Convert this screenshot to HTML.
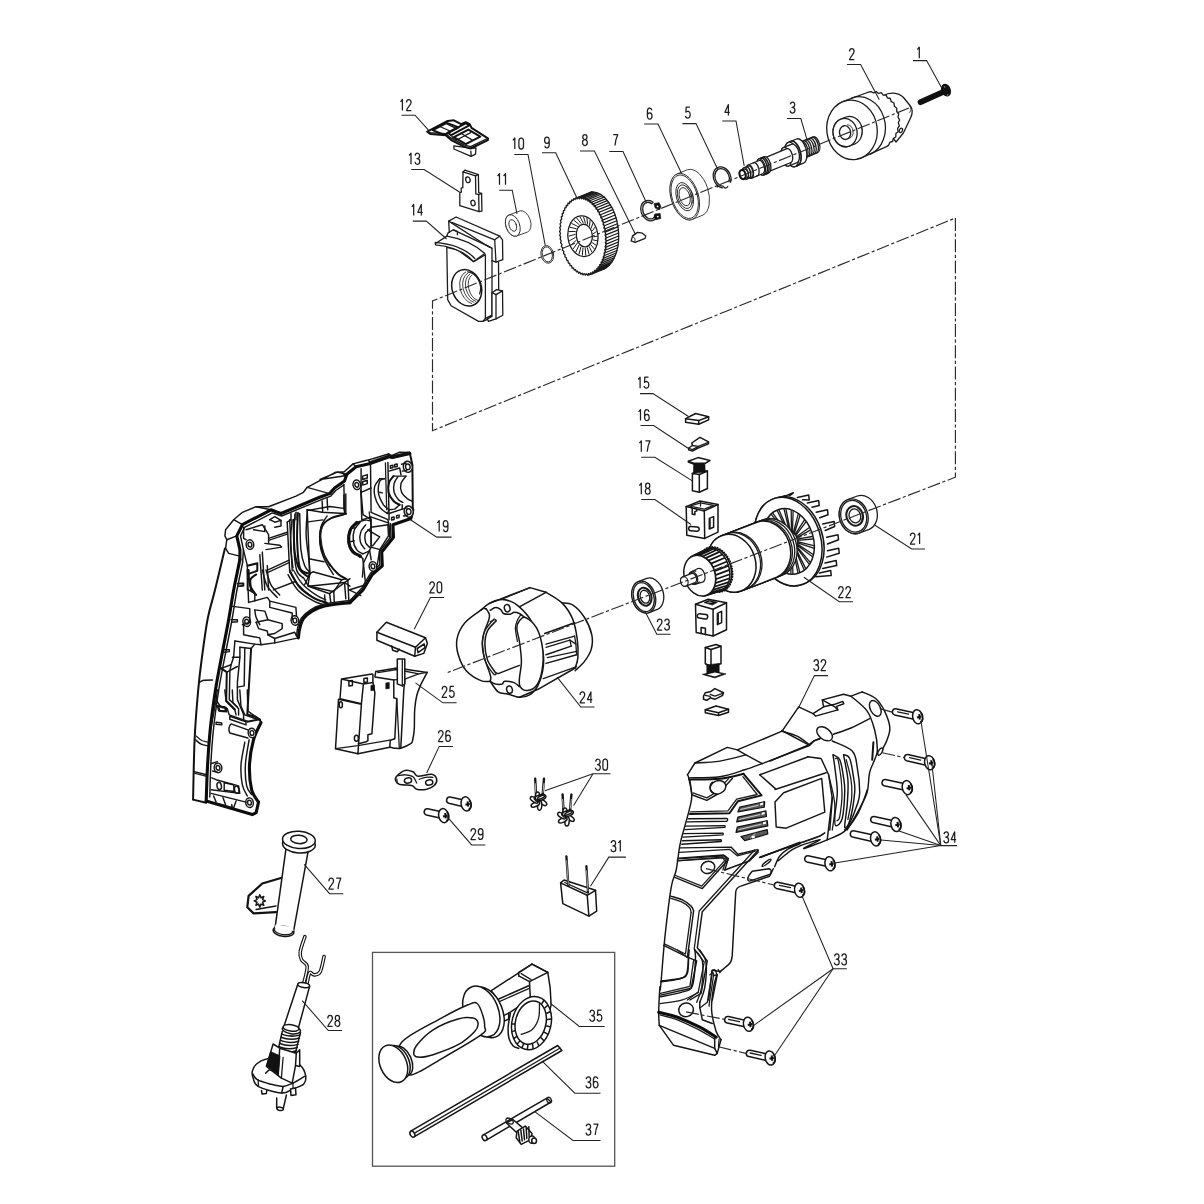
<!DOCTYPE html>
<html><head><meta charset="utf-8"><title>Exploded view</title>
<style>
html,body{margin:0;padding:0;background:#fff;}
body{width:1204px;height:1204px;overflow:hidden;font-family:"Liberation Sans",sans-serif;}
svg{display:block}
.l{fill:none;stroke:#1c1c1c;stroke-width:1.3;stroke-linejoin:round;stroke-linecap:round}
.w{fill:#fff;stroke:#1c1c1c;stroke-width:1.3;stroke-linejoin:round;stroke-linecap:round}
.t{fill:none;stroke:#2a2a2a;stroke-width:.9;stroke-linejoin:round;stroke-linecap:round}
.tw{fill:#fff;stroke:#2a2a2a;stroke-width:.9;stroke-linejoin:round}
.k{fill:none;stroke:#111;stroke-width:2.2;stroke-linejoin:round;stroke-linecap:round}
.kw{fill:#fff;stroke:#111;stroke-width:2.2;stroke-linejoin:round;stroke-linecap:round}
.m{fill:none;stroke:#151515;stroke-width:1.5;stroke-linejoin:round;stroke-linecap:round}
.mw{fill:#fff;stroke:#151515;stroke-width:1.5;stroke-linejoin:round;stroke-linecap:round}
.b{fill:#111;stroke:#111;stroke-width:.6;stroke-linejoin:round}
.h{fill:none;stroke:#151515;stroke-width:1.45;stroke-linejoin:round;stroke-linecap:round}
.hw{fill:#fff;stroke:#151515;stroke-width:1.45;stroke-linejoin:round}
.hm{fill:none;stroke:#111;stroke-width:2;stroke-linejoin:round;stroke-linecap:round}
.hk{fill:none;stroke:#0c0c0c;stroke-width:3.1;stroke-linejoin:round;stroke-linecap:round}
.hv{fill:#5a5a5a;stroke:#111;stroke-width:1.2;stroke-linejoin:round}
.wf{fill:#fff;stroke:none}
.hmw{fill:#fff;stroke:#111;stroke-width:2;stroke-linejoin:round}
.ld{fill:none;stroke:#222;stroke-width:1.05}
.dd{fill:none;stroke:#2a2a2a;stroke-width:1.15;stroke-dasharray:13 2.5 3.2 2.5}
.g{fill:none;stroke:#1e1e1e;stroke-width:1.25;stroke-linejoin:round;stroke-linecap:butt}
</style></head><body>
<svg width="1204" height="1204" viewBox="0 0 1204 1204">
<rect width="1204" height="1204" fill="#fff"/>
<!-- 10_top.svg -->
<g id="top">
<path d="M920.6,102.2L944.5,91.4" stroke="#111" stroke-width="5.8" stroke-linecap="round" fill="none"/>
<ellipse cx="946" cy="90.2" rx="4.8" ry="6.6" transform="rotate(-22 946 90.2)" fill="#111"/>

<circle cx="944.6" cy="87" r=".8" fill="#888"/><circle cx="947.6" cy="95" r=".8" fill="#888"/>
<path class="w" d="M884,95.5C889,92 898,92 903.5,97.5L910,105.5C913.2,109.5 912.8,113.5 910.5,118L903.4,133L896,142L880,120Z"/>
<path class="t" d="M909.7,106.2C911.5,108 911,111 909.5,112.5"/>
<path class="w" d="M861.3,157.9A25.2,29.8 -8 0 1 842.7,101.7L866.1,93L868.5,92.1L871,91.6L873.7,93L876.2,91.5L878.5,93.5L881.2,92.7L883.2,95.2L886,95.1L887.5,98L890.3,98.5L891.3,101.7L894,103L894.4,106.3L896.8,108.2L896.7,111.5L898.7,113.9L898,117.1L899.6,119.9L898.3,122.8L899.4,125.9L897.6,128.4L898.1,131.7L895.9,133.6L895.8,137L893.3,138.3L892.6,141.5L889.9,142.2L888.7,145.1L886.5,146.6L884.2,147.7Z"/>
<ellipse class="w" cx="900.9" cy="130.4" rx="1.5" ry="2.3" transform="rotate(25 900.9 130.4)"/>
<path class="l" d="M851.5,98.1A25.2,29.8 -8 0 1 870.1,154.3"/>
<ellipse class="w" cx="852" cy="129.8" rx="25.2" ry="29.8" transform="rotate(-8 852 129.8)"/>
<path class="w" d="M849.5,146A12,14.2 -8 1 1 840.6,119.2L846.2,117A12,14.2 -8 0 1 855,143.8Z"/><ellipse class="w" cx="845.1" cy="132.6" rx="12" ry="14.2" transform="rotate(-8 845.1 132.6)"/>
<ellipse class="l" cx="845.1" cy="132.6" rx="5.6" ry="6.9" transform="rotate(-8 845.1 132.6)"/>
<path class="t" d="M847.4,124.8A5.6,6.9 -8 0 1 849.3,138.3"/>
<path class="w" d="M805.9,157.4A4,8.2 -14 0 1 801.4,141.7L813.5,136.8A4,8.2 -14 0 1 818,152.5Z"/><ellipse class="w" cx="803.7" cy="149.6" rx="4" ry="8.2" transform="rotate(-14 803.7 149.6)"/>
<path class="l" d="M802.9,141.2A4,8.2 -14 1 1 806.8,156.8"/>
<path class="l" d="M805,140.3A4,8.2 -14 1 1 808.9,156"/>
<path class="l" d="M807.2,139.4A4,8.2 -14 1 1 811.1,155.1"/>
<path class="l" d="M809.3,138.5A4,8.2 -14 1 1 813.2,154.2"/>
<path class="l" d="M811.4,137.7A4,8.2 -14 1 1 815.3,153.3"/>
<path class="w" d="M797.9,165.4A6.4,12.6 -14 1 1 790.9,141.3L796.5,139A6.4,12.6 -14 0 1 803.5,163.2Z"/><ellipse class="w" cx="794.4" cy="153.4" rx="6.4" ry="12.6" transform="rotate(-14 794.4 153.4)"/>
<path class="w" d="M795.1,166.6A6.4,12.6 -14 1 1 788.2,142.4L790.9,141.3A6.4,12.6 -14 0 1 797.9,165.4Z"/><ellipse class="w" cx="791.7" cy="154.5" rx="6.4" ry="12.6" transform="rotate(-14 791.7 154.5)"/>
<path class="w" d="M788.8,166A4.8,9.6 -14 0 1 783.4,147.6L791.8,144.2A4.8,9.6 -14 0 1 797.1,162.6Z"/><ellipse class="w" cx="786.1" cy="156.8" rx="4.8" ry="9.6" transform="rotate(-14 786.1 156.8)"/>
<path class="w" d="M768.6,171.6A3.5,7.2 -14 0 1 764.7,157.8L786.9,148.7A3.5,7.2 -14 0 1 790.9,162.5Z"/><ellipse class="w" cx="766.7" cy="164.7" rx="3.5" ry="7.2" transform="rotate(-14 766.7 164.7)"/>
<path class="w" d="M763.4,175.1A4,8.4 -14 0 1 758.8,158.9L764.4,156.7A4,8.4 -14 0 1 769,172.8Z"/><ellipse class="w" cx="761.1" cy="167" rx="4" ry="8.4" transform="rotate(-14 761.1 167)"/>
<path class="m" d="M762.1,157.6A4,8.4 -14 1 1 766.1,173.7"/>
<path class="m" d="M760.3,158.4A4,8.4 -14 1 1 764.3,174.4"/>
<path class="w" d="M751.9,178.1A3.3,6.8 -14 0 1 748.1,165L759.2,160.5A3.3,6.8 -14 0 1 763,173.5Z"/><ellipse class="w" cx="750" cy="171.5" rx="3.3" ry="6.8" transform="rotate(-14 750 171.5)"/>
<path class="l" d="M753.4,162.9A3.3,6.8 -14 1 1 756.6,175.9"/>
<path class="w" d="M747,179A2.9,5.8 -14 0 1 743.8,167.9L748.4,166A2.9,5.8 -14 0 1 751.6,177.1Z"/><ellipse class="w" cx="745.4" cy="173.4" rx="2.9" ry="5.8" transform="rotate(-14 745.4 173.4)"/>
<path class="m" d="M745.8,167.1A2.9,5.8 -14 1 1 748.6,178.2"/>
<path class="w" d="M744,179A3,4.6 -14 0 1 741.2,170.2L744,169.1A3,4.6 -14 0 1 746.8,177.8Z"/><ellipse class="w" cx="742.6" cy="174.6" rx="3" ry="4.6" transform="rotate(-14 742.6 174.6)"/>
<ellipse cx="742.6" cy="174.6" rx="3" ry="4.6" transform="rotate(-14 742.6 174.6)" fill="none" stroke="#111" stroke-width="2"/>
<path class="l" d="M722.4,187.8A8.6,10.8 -22.3 1 1 730.6,182.2"/>
<path class="l" d="M722.8,186.1A7,9 -22.3 1 1 729,181.8"/>
<circle cx="717.4" cy="186.4" r="1" fill="#111"/>
<path class="l" d="M723.6,186.6C724,188.4 727,188.6 727.8,186.4"/>
<path class="tw" d="M692.4,219.4A13.7,24 -17 0 1 677,174L687.6,169.7A13.7,24 -17 0 1 702.9,215.1Z"/><ellipse class="tw" cx="684.7" cy="196.7" rx="13.7" ry="24" transform="rotate(-17 684.7 196.7)"/>
<ellipse class="t" cx="684.7" cy="196.7" rx="12.6" ry="22.4" transform="rotate(-17 684.7 196.7)"/>
<ellipse class="t" cx="684.7" cy="196.7" rx="8.2" ry="14.6" transform="rotate(-17 684.7 196.7)"/>
<ellipse class="t" cx="684.7" cy="196.7" rx="6.8" ry="12.2" transform="rotate(-17 684.7 196.7)"/>
<ellipse class="t" cx="684.7" cy="196.7" rx="5.2" ry="9.4" transform="rotate(-17 684.7 196.7)"/>
<path class="t" d="M686.6,186.6A5.2,9.4 -17 0 1 691.8,203.5"/>
<path d="M657,214.2A7.4,9.6 -22.3 1 1 652.9,203.2" fill="none" stroke="#151515" stroke-width="3.2"/>
<path d="M656.8,214.9A7.4,9.6 -22.3 1 1 652.3,202.7" fill="none" stroke="#fff" stroke-width=".7"/>
<path class="b" d="M654,203.5l5.2,-.8l1.6,3.6l-1,3.4l-4.6,-1.6z"/>
<path class="b" d="M654.6,214l5.6,-.6l.6,5l-4.8,1.4l-2,-2.6z"/>
<circle cx="657.6" cy="206.4" r=".9" fill="#fff"/><circle cx="657.8" cy="216.6" r=".9" fill="#fff"/>
<path class="w" d="M631.1,240.9L632.6,235.9L637.4,232.4L642.4,233.2L645.8,235.9L645.1,238.4L635.1,242.4Z"/>
<path class="t" d="M632.6,235.9Q636.4,238.4 635.1,242.4"/>
<path class="w" d="M578.1,197.3A23,39.2 -7 0 1 587.7,275.1L600.6,269.8A23,39.2 -7 0 0 591.1,192Z"/>
<path d="M578.9,197.2L591.9,191.9M580.7,197.2L593.7,191.9M582.6,197.5L595.5,192.2M584.4,198L597.4,192.7M586.2,198.7L599.2,193.4M588,199.6L601,194.3M589.8,200.8L602.8,195.5M591.6,202.2L604.5,196.9M593.2,203.9L606.2,198.6M594.8,205.7L607.8,200.4M596.4,207.7L609.3,202.4M597.8,209.9L610.8,204.6M599.2,212.2L612.2,206.9M600.5,214.7L613.4,209.4M601.6,217.3L614.6,212M602.7,220.1L615.6,214.8M603.6,222.9L616.5,217.6M604.4,225.8L617.3,220.5M605,228.8L618,223.5M605.5,231.9L618.5,226.6M605.9,234.9L618.9,229.6M606.1,238L619.1,232.7M606.2,241.1L619.2,235.8M606.2,244.1L619.1,238.8M606,247.1L618.9,241.8M605.6,250L618.6,244.7M605.1,252.8L618.1,247.5M604.5,255.5L617.5,250.2M603.8,258.1L616.7,252.8M602.9,260.6L615.8,255.3M601.9,262.9L614.8,257.6M600.7,265.1L613.7,259.8M599.5,267.1L612.5,261.8M598.2,268.8L611.1,263.5M596.7,270.4L609.7,265.1M595.2,271.8L608.2,266.5M593.6,272.9L606.6,267.6M592,273.9L604.9,268.6M590.2,274.5L603.2,269.2M588.5,275L601.4,269.7" fill="none" stroke="#1a1a1a" stroke-width="1.15"/>
<path class="w" d="M605.7,233.4L605.1,235.3L606.1,237.2L605.3,239L606.2,241L605.3,242.7L606.1,244.8L605.1,246.3L605.8,248.5L604.7,249.8L605.3,252.1L604.1,253.1L604.5,255.5L603.3,256.3L603.6,258.7L602.3,259.3L602.4,261.7L601.1,262.1L601.1,264.5L599.7,264.7L599.6,267L598.1,266.9L597.9,269.2L596.4,268.9L596,271.1L594.6,270.5L594.1,272.6L592.7,271.9L592,273.8L590.7,272.8L589.9,274.6L588.6,273.5L587.7,275.1L586.4,273.7L585.4,275.2L584.2,273.6L583.1,274.9L582,273.2L580.8,274.2L579.8,272.3L578.6,273.2L577.7,271.2L576.4,271.8L575.6,269.7L574.2,270.1L573.5,267.9L572.1,268.1L571.6,265.7L570.1,265.7L569.7,263.3L568.3,263L568,260.7L566.6,260.1L566.4,257.8L565,257L565,254.6L563.6,253.7L563.8,251.3L562.4,250.2L562.7,247.9L561.4,246.5L561.9,244.4L560.6,242.8L561.2,240.7L560.1,239L560.7,237.1L559.7,235.2L560.5,233.4L559.6,231.4L560.5,229.7L559.7,227.6L560.7,226.1L560,223.9L561.1,222.6L560.5,220.3L561.7,219.3L561.3,216.9L562.5,216.1L562.2,213.7L563.5,213.1L563.4,210.7L564.7,210.3L564.7,207.9L566.1,207.7L566.2,205.4L567.7,205.5L567.9,203.2L569.4,203.5L569.8,201.3L571.2,201.9L571.7,199.8L573.1,200.5L573.8,198.6L575.1,199.6L575.9,197.8L577.2,198.9L578.1,197.3L579.4,198.7L580.4,197.2L581.6,198.8L582.7,197.5L583.8,199.2L585,198.2L586,200.1L587.2,199.2L588.1,201.2L589.4,200.6L590.2,202.7L591.6,202.3L592.3,204.5L593.7,204.3L594.2,206.7L595.7,206.7L596.1,209.1L597.5,209.4L597.8,211.7L599.2,212.3L599.4,214.6L600.8,215.4L600.8,217.8L602.2,218.7L602,221.1L603.4,222.2L603.1,224.5L604.4,225.9L603.9,228L605.2,229.6L604.6,231.7Z"/>
<ellipse class="l" cx="582.9" cy="236.2" rx="15" ry="20.4" transform="rotate(-7 582.9 236.2)"/>
<ellipse class="l" cx="584.3" cy="235.6" rx="8" ry="11.4" transform="rotate(-7 584.3 235.6)"/>
<path d="M597.2,236.2L593.2,236.9M597.1,240.8L592.8,239.8M596.1,245.2L592.1,242.5M594.4,249.1L590.8,244.7M592,252.3L589.2,246.5M589.1,254.4L587.3,247.6M585.8,255.6L585.2,248M582.3,255.6L583,247.7M578.9,254.5L581,246.7M575.7,252.3L579.1,245M572.9,249.2L577.5,242.8M570.7,245.3L576.4,240.2M569.2,240.9L575.6,237.3M568.6,236.2L575.4,234.3M568.7,231.6L575.7,231.4M569.7,227.2L576.5,228.8M571.4,223.3L577.8,226.5M573.8,220.1L579.4,224.8M576.7,218L581.3,223.7M580,216.8L583.4,223.3M583.5,216.8L585.5,223.6M586.9,217.9L587.6,224.6M590.1,220.1L589.5,226.3M592.9,223.2L591,228.5M595.1,227.1L592.2,231.1M596.6,231.5L592.9,233.9" fill="none" stroke="#1a1a1a" stroke-width="1"/>
<ellipse class="t" cx="547.3" cy="254.4" rx="6.3" ry="8.9" transform="rotate(-12 547.3 254.4)"/>
<ellipse class="t" cx="547.3" cy="254.4" rx="5" ry="7.6" transform="rotate(-12 547.3 254.4)"/>
<path class="tw" d="M516.6,236A6.8,11.2 -19.8 0 1 509,214.9L519.8,211A6.8,11.2 -19.8 0 1 527.4,232.1Z"/><ellipse class="tw" cx="512.8" cy="225.5" rx="6.8" ry="11.2" transform="rotate(-19.8 512.8 225.5)"/>
<ellipse class="t" cx="512.8" cy="225.5" rx="3.6" ry="6" transform="rotate(-19.8 512.8 225.5)"/>
<path class="w" d="M453.9,145.8L453.9,149L471.1,156.3L475.5,154.2L476,147.9L470.6,148.1Z"/>
<path class="l" d="M471.1,156.3L470.9,151.2"/>
<path class="hmw" d="M427.2,131.7L447.7,120.9L453.9,120.3L461.1,124.2L465.7,122.2L469.7,124.2L471.5,127.9L487.9,138.4L487.9,140.1L470.6,148.5L464.1,146.6L451.2,140.1L445.8,135.2L430.6,134.1Z"/>
<path class="l" d="M427.2,131.7L430.6,132.6L445.8,133.7L451.2,138.2L464.1,144.9L470.6,146.6L487.9,138.4"/>
<path class="hmw" d="M447.7,132.6L465.7,123.3L469.7,125.2L451.2,135.2Z"/>
<path class="l" d="M451.2,135.2L453.3,138.7L456.6,140.4"/>
<path class="hm" d="M432.8,130.1L446.8,122.9L458.7,127.4L444.1,135Z"/>
<path class="l" d="M439.8,126.5L451.2,131.5"/>
<path class="l" d="M445.8,123.3L456.6,128.7"/>
<path class="hm" d="M453.9,137.1L468.4,129.6L480.3,136.6L465.7,144.1Z"/>
<path class="l" d="M460.9,133.3L472.8,140.4"/>
<path class="l" d="M458.2,139.3L470.6,132.6"/>
<path class="w" d="M463,171.9L465,170.1L478.4,174.7L478.7,192.7L481.6,193.5L481.9,211.1L479,211.6Z"/>
<path class="w" d="M463,171.9L475.5,175.8L475.8,193.8L478.7,194.6L479,211.6L459.8,205.7L459.8,192.7L461.4,192.2L461.1,188.1L462.8,187.7Z"/>
<path class="l" d="M475.5,175.8L478.4,174.7"/>
<path class="l" d="M478.7,194.6L481.6,193.5"/>
<ellipse class="l" cx="467.9" cy="179.8" rx="2.2" ry="2.9" transform="rotate(-15 467.9 179.8)"/>
<ellipse class="l" cx="473" cy="203" rx="2.1" ry="2.8" transform="rotate(-15 473 203)"/>
<path class="w" d="M448.7,221.1L456.1,217L499.7,236.1L502.5,239.8L502.8,259.7L496,262.2L492,260.7L492,248.3L485.4,244.8Z"/>
<path class="l" d="M448.7,221.1L449.3,232.3"/>
<path class="l" d="M451.8,222.4L494.7,239.8L499.7,236.1"/>
<path class="l" d="M494.7,239.8L496,262.2"/>
<path class="l" d="M492,248.3L485.4,244.8L489.8,247.3"/>
<path class="w" d="M446.8,247.3L447.7,299.6L451.1,305.8L478.6,321.4L482.9,321.4L485.4,318.3L485.4,254.7L473.6,261.6L457.4,249.8Z"/>
<path class="l" d="M485.4,318.3L492,315.2L492,260.7"/>
<path class="l" d="M482.9,321.4L488.5,318.9L492,315.2"/>
<path class="w" d="M492,292.7L496.6,289.6L502.5,290.9L502.8,315.2L496,318.9L488.5,321.4L487.3,318.9L492,316.4Z"/>
<path class="l" d="M492,292.7L496,294.6L502.5,290.9"/>
<path class="l" d="M496,294.6L496,318.9"/>
<path class="l" d="M498.5,262.2L498.7,289.6"/>
<path class="w" d="M435.2,243.8L446.8,236.1Q469.8,239.8 484.8,253.5L473.6,261.6Q461.1,247.3 435.6,244.8Z"/>
<path class="l" d="M435.2,242.3Q462.4,244.8 474.8,258.5"/>
<path class="l" d="M446.8,236.1L448,232.9L453.4,229.8L457.4,231.7L457.4,234.8"/>
<path class="l" d="M453.4,229.8L485.4,244.8L489.8,247.3"/>
<ellipse cx="466.7" cy="287.8" rx="14.6" ry="18.6" transform="rotate(-18 466.7 287.8)" class="mw"/>
<path class="t" d="M465.7,272A11.5,16.8 -18 0 0 471.7,303.6"/>
<path class="t" d="M467.8,273.2A10.5,15.6 -18 0 0 473.8,302.4"/>
<path class="t" d="M469.8,274.2A9.5,14.6 -18 0 0 475.8,301.4"/>
<path class="t" d="M471.8,275.2A8.5,13.6 -18 0 0 477.8,300.4"/>
<path class="l" d="M467.7,271.8A12,15 -18 0 1 479.7,293.8"/>
</g>

<!-- 20_house.svg -->
<g id="house19">
<path class="h" d="M409.9,452.5L399.7,452.2L391.6,455.6L388.5,454L368.6,459.9L366.7,460.2L353,463.9L344.3,471.8L337.4,472.1L320,479.5L347,475.5L342.1,472.6L335.8,472.1L307.2,487.3L303.4,492.3L296,496.1L268.6,506.7L256.1,506.7L242.4,512.3L233.7,519.7L225.6,529.7L224.9,535.9L226.8,539.7L225.6,548.4"/>
<path class="h" d="M225.6,548.4L228.7,553.4L238.7,555.9"/>
<path class="hm" d="M224.9,548.4C223.3,555.3 217.9,578.1 215,590C212.1,601.9 209.7,608.1 207.5,619.8C205.3,631.5 203.2,648.3 201.6,660C200,671.7 199.4,676.7 198.2,690C197,703.3 195.4,721.5 194.6,739.8C193.8,758.1 193.3,789.6 193.1,799.6"/>
<path class="hm" d="M193.1,799.6L206.2,802.7"/>
<path class="h" d="M342.1,472.6L346.4,477.4"/>
<path class="l" d="M307.2,487.3L329.6,493.6"/>
<path class="h" d="M256.1,506.7L271,509.8"/>
<path class="h" d="M233.7,519.7L242.4,524.7"/>
<path class="h" d="M226.8,539.7L236.8,535.9"/>
<path class="h" d="M353,463.9L356.1,466.8"/>
<path class="h" d="M368.6,459.9L369.8,463.4"/>
<path class="h" d="M388.5,454L389.8,456.4"/>
<path class="h" d="M391.6,455.6L392.3,457.4"/>
<path class="h" d="M337.4,472.1L346.8,474.3"/>
<path class="h" d="M200,682.1C200.6,681.8 201.7,680.6 203.7,680.3C205.8,679.9 211,679.9 212.5,679.9"/>
<path class="h" d="M195.6,739.8C196.5,740.6 199,743.2 201.2,744.2C203.4,745.2 207.4,745.7 208.7,746.1"/>
<path class="l" d="M196.2,736.1C197.1,736.8 199.6,739.4 201.8,740.5C204,741.5 208,742 209.3,742.3"/>
<path class="h" d="M194.3,771.6L206.8,774.7"/>
<path class="l" d="M194.3,773.2L206.8,776.3"/>
<path class="hk" d="M409.9,453.5L392.3,457.4L389.1,456.8L369.2,463.7L356.1,466.8L346.8,474.3L344.5,481.1L334.6,488L329.6,493.6L319.6,497.3L281,513.5L277.3,512.3L271,509.8L242.4,524.7L236.8,535.9L239.9,549.6L239.9,559.6"/>
<path class="hk" d="M239.9,559.6C238.9,564.7 235.6,579.9 233.7,590C231.8,600.1 230.6,608.8 228.6,620C226.6,631.2 223.7,645.3 221.5,657C219.3,668.7 217.3,678.3 215.5,690C213.7,701.7 211.8,714.5 210.5,727C209.2,739.5 208.3,752.7 207.6,765C206.9,777.3 206.4,795 206.2,801"/>
<path class="hk" d="M206.2,800.9L252.3,814.6L256.2,812.7L258.5,802.1"/>
<path class="hk" d="M258.5,802.1C257.3,800 253.1,795.9 251.6,789.7C250.1,783.4 249.2,773.1 249.5,764.7C249.8,756.4 251.6,746.8 253.5,739.8C255.4,732.8 259.7,725.5 261,722.6"/>
<path class="hm" d="M261,722.6L259.7,719.3L247.3,721.8"/>
<path class="hk" d="M298.4,637.9C298.6,636.3 298.8,631.8 299.7,628.6C300.5,625.3 301.3,621.5 303.4,618.6C305.5,615.7 308.6,613.2 312.1,611.1C315.7,609 318.3,607.5 324.6,606.1C330.9,604.7 345.8,603.2 350,602.6"/>
<path class="hk" d="M350,602.6L363,590L372.3,574.5L382.3,565.8L381.7,552.1L393.5,537.2L392.9,524.7L410.9,518.5L412.8,509.8"/>
<path class="hm" d="M412.8,509.8L412.4,464.9L409.9,453.5"/>
<path class="b" d="M369.6,461.4L389.1,454.7L389.8,457.4L369.6,464.7Z"/>
<path class="b" d="M392,455.4L409.9,451.7L410.2,454.2L392.3,458.2Z"/>
<path class="h" d="M343.9,484.8L335.8,490.5L330.8,496.1L320.9,499.8L281.6,516L272.3,512.9L244.9,527.2L240.5,535.9L243.4,549.6L242.6,562.7"/>
<path class="h" d="M242.6,562.7C241.6,567.6 238.4,582.1 236.6,592C234.8,601.9 233.6,611 231.6,622C229.6,633 226.8,646.5 224.6,658C222.4,669.5 220.4,679.3 218.6,691C216.8,702.7 214.9,715.7 213.6,728C212.3,740.3 211.4,753.5 210.8,765C210.2,776.5 210,791.7 209.8,797"/>
<path class="h" d="M296.5,636C296.8,634.6 297,630.3 297.8,627.3C298.6,624.3 299.4,620.9 301.5,618C303.7,615 307.1,611.9 310.9,609.6C314.6,607.3 317.4,605.8 324,604.3C330.5,602.7 345.7,601.1 350,600.5"/>
<path class="h" d="M350,600.5L361.7,588.2L370.5,573.3L379.8,564.6L379.5,551.5L391,536.5L390.4,523.5"/>
<path class="hm" d="M297.9,512.9C297.8,517.4 296.8,530.7 297.1,539.9C297.5,549 297.8,562.1 299.9,567.8C302.1,573.4 308.2,572.8 309.9,573.7"/>
<path class="h" d="M295,513.9C294.8,518.6 293.5,532.5 293.8,541.8C294,551.1 294.9,563.8 296.5,569.8C298,575.7 301.9,576.4 302.9,577.7"/>
<path class="h" d="M292,519.9C291.7,523.9 290.3,535.9 290.5,543.8C290.6,551.8 292.5,563.8 293,567.8"/>
<path class="h" d="M307.4,509.9C307.2,514.1 305.9,526.6 306.1,534.9C306.4,543.2 308.3,553.3 308.9,559.8C309.5,566.3 309.7,571.4 309.9,573.7"/>
<path class="h" d="M307.9,510.4L329.9,506.5L343.8,508.4L345.8,513.9"/>
<path class="hm" d="M345.8,513.9C343.5,514.6 335.7,516.1 331.8,517.9C328,519.7 324.9,521.7 322.9,524.9C320.9,528.1 320,532.7 319.9,536.9C319.7,541 320.5,545.7 321.9,549.8C323.2,554 325.2,557.8 327.9,561.8C330.5,565.8 334.8,570.9 337.8,573.7C340.8,576.6 344.5,577.9 345.8,578.7"/>
<path class="l" d="M321.9,527.9C321.7,529.4 320.3,532.5 320.7,536.9C321,541.2 322.3,549 323.9,553.8C325.4,558.6 328.9,563.8 329.9,565.8"/>
<path class="h" d="M307.9,521.9L322.9,519.9"/>
<path class="h" d="M308.9,558.8L323.9,561.8"/>
<path class="h" d="M309.9,573.7L312.9,571.8L341.8,579.7L345.8,578.7"/>
<path class="h" d="M341.8,579.7L333.8,591.7L307.9,585.7L309.9,573.7"/>
<path class="hm" d="M290,571.8C291.6,574.4 295.8,583.2 299.9,587.7C304.1,592.2 310.4,596.2 314.9,598.7C319.4,601.2 324.9,602 326.9,602.7"/>
<path class="h" d="M288,574.7C289.7,577.4 294.1,586.3 298.4,590.7C302.8,595.1 309.7,598.8 313.9,601.2C318.1,603.5 322.2,604.1 323.9,604.7"/>
<path class="h" d="M345.8,494L345.8,513.9"/>
<path class="h" d="M360.8,490L361.8,519.9"/>
<path class="l" d="M343.8,495L343.8,508.4"/>
<path class="h" d="M345.8,578.7L347.8,579.7L348.8,599.7"/>
<path class="h" d="M362.8,558.8L365.7,584.7L349.8,589.7"/>
<path class="h" d="M333.8,591.7L334.3,602.7"/>
<path class="l" d="M348.8,589.7L360.8,595.7"/>
<path class="hk" d="M356.8,522.4C355.7,523.6 351.6,526.6 350.3,529.9C349,533.1 348.4,538.2 348.8,541.8C349.2,545.5 350.9,549.5 352.8,551.8C354.7,554.1 359,555.1 360.3,555.8"/>
<path class="h" d="M359.8,522.9C358.8,524.1 355.4,526.9 354.3,529.9C353.2,532.9 352.9,537.5 353.3,540.8C353.7,544.2 355.2,547.7 356.8,549.8C358.3,552 361.8,553.1 362.8,553.8"/>
<path class="h" d="M365.7,524.9C364.9,526.1 361.7,529 360.8,531.9C359.8,534.7 359.6,539 360.3,541.8C360.9,544.7 364,547.7 364.7,548.8"/>
<path class="h" d="M369.7,528.9C369,529.7 365.9,531.5 365.2,533.9C364.6,536.2 365,540.6 365.7,542.8C366.5,545.1 369.1,546.6 369.7,547.3"/>
<path class="h" d="M367.7,529.9L379.7,536.9L372.7,545.8"/>
<path class="h" d="M355.8,522.9L365.7,519.9L370.2,520.9"/>
<path class="h" d="M351.8,528.4L355.8,527.7"/>
<path class="h" d="M349.8,541.8L354.3,541"/>
<path class="h" d="M360.3,555.8L362.8,558.8"/>
<path class="h" d="M362.8,553.8L369.7,550.8L371.2,559.8"/>
<path class="h" d="M370.7,516.9L371.2,545.8"/>
<path class="l" d="M369.2,511.9L370.2,520.9"/>
<path class="h" d="M361.8,519.9L370.7,516.9L388.2,522.9"/>
<path class="h" d="M379.8,478.6C379,479.9 375.6,483.2 374.8,486.1C374,489 374,492.5 374.8,496.1C375.6,499.6 377.7,504.4 379.8,507.3C381.9,510.2 386,512.5 387.3,513.5"/>
<path class="h" d="M384.8,478.6C384,479 380.8,478.6 379.8,481.1C378.8,483.6 377.9,489.6 378.6,493.6C379.2,497.5 381.8,502.1 383.5,504.8C385.3,507.5 388.2,508.9 389.1,509.8"/>
<path class="hm" d="M393.5,476.1C392.8,477.2 390,479.7 389.1,482.4C388.3,485.1 387.8,489.2 388.5,492.3C389.2,495.4 391.6,499 393.5,501C395.4,503.1 398.7,504.2 399.7,504.8"/>
<path class="h" d="M397.9,476.8C397.2,477.9 394.7,481 394.1,483.6C393.5,486.2 393.4,489.6 394.1,492.3C394.9,495 397,498.1 398.5,499.8C399.9,501.5 402.1,501.9 402.8,502.3"/>
<path class="h" d="M406,476.1C405.1,477.4 401.7,480.9 401,483.6C400.2,486.3 400.6,489.8 401.6,492.3C402.6,494.8 405.5,497.1 407.2,498.6C408.9,500 410.8,500.6 411.6,501"/>
<path class="h" d="M379.8,478.6L384.8,478.6"/>
<path class="h" d="M393.5,476.1L406,476.1"/>
<path class="h" d="M387.3,513.5L389.1,509.8L394.7,509.1L399.7,504.8"/>
<path class="h" d="M379.8,492.3L382.3,492.9"/>
<path class="h" d="M387.9,462.4L389.1,519.7"/>
<path class="l" d="M385.4,463L386.7,509.8"/>
<path class="h" d="M389.1,471.1L399.7,468L401,474.9"/>
<path class="h" d="M389.1,513.5L402.2,509.1L402.2,504.8"/>
<path class="h" d="M370.5,464.3L371.1,512.3L387.9,519.7L389.1,526"/>
<path class="h" d="M361.1,468.7L361.1,492.3L363,514.7L371.1,519.7"/>
<path class="h" d="M361.1,492.3L371.1,488"/>
<path class="h" d="M371.1,519.7L371.1,527.2L387.9,524.7"/>
<path class="h" d="M389.1,526L389.8,537.2"/>
<path class="h" d="M390.4,465.8L392.9,465.3L392.9,467.8L390.4,468.3Z"/>
<path class="h" d="M394.7,464.5L397.2,464L397.2,466.5L394.7,467Z"/>
<path class="h" d="M391.6,517.5L394.1,517L394.1,519.5L391.6,520Z"/>
<path class="h" d="M396.6,515.6L399.1,515.1L399.1,517.6L396.6,518.1Z"/>
<path class="h" d="M362.7,476.1L367.3,474.6L367.3,478L362.7,479.5Z"/>
<path class="h" d="M362.7,481.7L367.3,480.2L367.3,483.6L362.7,485.1Z"/>
<path class="h" d="M371.1,527.2L371.1,547.1L363.6,562.7L362.4,577"/>
<path class="h" d="M387.9,524.7L388.5,535.9L379.8,549.6L377.3,564.6"/>
<path class="h" d="M371.1,547.1L379.8,549.6"/>
<ellipse class="hw" cx="356.8" cy="484.8" rx="3.8" ry="4.8" transform="rotate(-10 356.8 484.8)"/><ellipse class="h" cx="356.8" cy="484.8" rx="1.9" ry="2.4" transform="rotate(-10 356.8 484.8)"/>
<ellipse class="hw" cx="372.9" cy="566.4" rx="3.8" ry="4.8" transform="rotate(-10 372.9 566.4)"/><ellipse class="h" cx="372.9" cy="566.4" rx="1.9" ry="2.4" transform="rotate(-10 372.9 566.4)"/>
<ellipse class="hw" cx="249.9" cy="544.6" rx="3.8" ry="4.8" transform="rotate(-10 249.9 544.6)"/><ellipse class="h" cx="249.9" cy="544.6" rx="1.9" ry="2.4" transform="rotate(-10 249.9 544.6)"/>
<ellipse class="hw" cx="246.7" cy="621.7" rx="3.8" ry="4.8" transform="rotate(-10 246.7 621.7)"/><ellipse class="h" cx="246.7" cy="621.7" rx="1.9" ry="2.4" transform="rotate(-10 246.7 621.7)"/>
<ellipse class="hw" cx="294.9" cy="620.5" rx="3.8" ry="4.8" transform="rotate(-10 294.9 620.5)"/><ellipse class="h" cx="294.9" cy="620.5" rx="1.9" ry="2.4" transform="rotate(-10 294.9 620.5)"/>
<ellipse class="hw" cx="252" cy="733" rx="3.8" ry="4.8" transform="rotate(-10 252 733)"/><ellipse class="h" cx="252" cy="733" rx="1.9" ry="2.4" transform="rotate(-10 252 733)"/>
<ellipse class="hw" cx="218" cy="767.9" rx="3.8" ry="4.8" transform="rotate(-10 218 767.9)"/><ellipse class="h" cx="218" cy="767.9" rx="1.9" ry="2.4" transform="rotate(-10 218 767.9)"/>
<ellipse class="hw" cx="249.5" cy="802.7" rx="3.8" ry="4.8" transform="rotate(-10 249.5 802.7)"/><ellipse class="h" cx="249.5" cy="802.7" rx="1.9" ry="2.4" transform="rotate(-10 249.5 802.7)"/>
<ellipse class="hw" cx="407.8" cy="466.8" rx="4.5" ry="5.6" transform="rotate(-10 407.8 466.8)"/><ellipse class="h" cx="407.8" cy="466.8" rx="2.3" ry="2.9" transform="rotate(-10 407.8 466.8)"/>
<ellipse class="hw" cx="408.7" cy="511.6" rx="4.5" ry="5.6" transform="rotate(-10 408.7 511.6)"/><ellipse class="h" cx="408.7" cy="511.6" rx="2.3" ry="2.9" transform="rotate(-10 408.7 511.6)"/>
<path class="h" d="M401.6,464.3L406,463"/>
<path class="h" d="M402.2,471.1L406.6,470.5"/>
<path class="h" d="M402.2,509.1L407.2,507.9"/>
<path class="h" d="M403.5,516L407.2,515.4"/>
<path class="h" d="M243.6,527.2L243.6,538.4L246.1,539.7"/>
<path class="h" d="M246.1,529.7L262.3,524.7L268.6,534.7L268.6,543.4"/>
<path class="h" d="M253.6,529.7L264.8,531.6L264.8,526"/>
<path class="h" d="M269.8,519.7L274.8,522.2L281,520.4L281,526L274.8,527.2"/>
<path class="h" d="M269.8,519.7L274.8,516.6L281,520.4"/>
<path class="h" d="M268.6,538.4L287.2,532.2"/>
<path class="l" d="M268.6,540.3L287.2,534.1"/>
<path class="h" d="M268.6,569.6L289.1,560.2"/>
<path class="l" d="M268.6,572.1L289.1,562.7"/>
<path class="h" d="M264.8,543.4L279.8,545.3L281.6,547.1L266.1,549.6"/>
<path class="h" d="M287.2,522.2L289.7,572.1"/>
<path class="h" d="M289.7,519.7L292.2,570.8"/>
<path class="h" d="M291,513.5L291,519.7L287.2,522.2"/>
<path class="h" d="M296,512.3L296,519.7"/>
<path class="hm" d="M293.5,519.7C293.7,525.1 293.7,543.8 294.7,552.1C295.8,560.4 297.4,565.4 299.7,569.6C302,573.7 307,575.8 308.4,577"/>
<path class="h" d="M299.7,513.5C299.9,519.5 300.1,540.9 300.9,549.6C301.8,558.4 303.2,562.1 304.7,565.8C306.1,569.6 308.8,571 309.7,572.1"/>
<path class="h" d="M307.2,509.8L309.7,572.1L308.4,577L304.7,584.5"/>
<path class="h" d="M307.2,509.8L322.1,512.3L344.5,513.5L343.9,484.8"/>
<path class="h" d="M322.1,501L322.7,511.6"/>
<path class="h" d="M327.1,498.6L327.7,509.8"/>
<path class="h" d="M262.3,552.1L264.8,590"/>
<path class="h" d="M259.8,554.6L262.3,590"/>
<path class="hm" d="M247.4,565.8L257.3,563.3L257.3,570.8L248.6,573.9"/>
<path class="h" d="M243.4,549.6L247.4,565.8L247.4,590"/>
<path class="hm" d="M251.1,590C251,588.2 249.7,582.1 250.5,579.5C251.3,577 255.2,575.4 256.1,574.5"/>
<path class="h" d="M267.3,565.8L268.6,590"/>
<path class="h" d="M239.3,583.3L243.6,583.3L243.6,585.8L239.9,586.4"/>
<path class="h" d="M327.1,516C326.1,517.9 322,522.2 320.9,527.2C319.7,532.2 319.6,540.5 320.3,545.9C320.9,551.3 322.4,554.8 324.6,559.6C326.8,564.4 331.9,572.1 333.3,574.5"/>
<path class="hm" d="M360,521.6C358.7,522.5 354,524.6 352,527.2C350.1,529.8 348.5,533.6 348.3,537.2C348.1,540.7 348.8,545.1 350.8,548.4C352.7,551.7 358.5,555.7 360,557.1"/>
<path class="hm" d="M248.6,570C248.8,572.5 248.6,580.8 249.8,584.9C251.1,589.1 255,593.3 256.1,594.9"/>
<path class="h" d="M262.3,570C263.1,572.7 264.8,581.6 267.3,586.2C269.8,590.8 275.6,595.5 277.2,597.4"/>
<path class="h" d="M266,570C266.9,572.5 268.7,580.8 271,584.9C273.3,589.1 278.3,593.3 279.7,594.9"/>
<path class="h" d="M289.7,570C291.2,572.5 294.7,580.5 298.4,584.9C302.2,589.4 307.8,593.9 312.1,596.8C316.5,599.7 322.5,601.5 324.6,602.4"/>
<path class="l" d="M293.4,570C294.9,572.3 298.4,579.6 302.2,583.7C305.9,587.9 311.9,592.2 315.9,594.9C319.8,597.6 324.2,599.1 325.8,599.9"/>
<path class="h" d="M273.5,589.9L294.7,581.8"/>
<path class="h" d="M303.4,577.5L308.4,586.2L329.6,593.7L350,578.7"/>
<path class="h" d="M329.6,593.7L330.8,602.4"/>
<path class="h" d="M324.6,594.9L325.2,603.6"/>
<path class="h" d="M308.4,586.2L344.5,582.5L350,586.2"/>
<path class="h" d="M344.5,582.5L345.8,598.7"/>
<path class="h" d="M231.1,606.1L249.8,608.6L249.8,622.3L242.4,624.8"/>
<path class="h" d="M248.6,602.4L267.3,597.4L269.8,601.1L295.9,607.4L296.5,616.1"/>
<path class="h" d="M269.8,601.1L269.8,607.4L292.2,613L292.2,619.8"/>
<path class="h" d="M254.8,609.9L264.8,611.1L267.9,619.8L256.1,622.3"/>
<path class="h" d="M254.8,609.9C255,611.1 255.2,614.8 256.1,617.3C256.9,619.8 259.2,623.6 259.8,624.8"/>
<path class="h" d="M256.1,622.3L258.6,628.6L267.3,631L267.9,634.8L274.7,633.5L282.2,628.6L282.2,623.6L267.9,619.8"/>
<path class="h" d="M267.9,634.8L274.7,638.5L274.7,642.9L298.4,637.9"/>
<path class="h" d="M274.7,638.5L294.7,632.3L296.5,636"/>
<path class="h" d="M243.6,624.8L243.6,634.8L259.8,637.9L261,644.7L274.7,642.9"/>
<path class="h" d="M234.9,641L254.8,644.1L261,644.7"/>
<path class="h" d="M234.9,641L233.6,657.2L231.1,664.7L221.2,668.4"/>
<path class="h" d="M239.9,647.2L251.1,648.5L254.8,644.1"/>
<path class="h" d="M239.9,647.2L239.9,657.2L237.4,682.1L237.4,699.6L243.6,714.5L243.6,720"/>
<path class="h" d="M244.8,648.5L244.2,685.9L237.4,687.1"/>
<path class="hm" d="M251.1,648.5L247.3,714.5L256.1,717L259.8,720"/>
<path class="h" d="M232.4,657.2L239.9,657.2"/>
<path class="hm" d="M221.2,668.4L226.8,672.2L226.2,700.8L234.9,709.5"/>
<path class="h" d="M231.1,664.7L229.9,670.9L229.3,699.6L237.4,707"/>
<path class="h" d="M226.8,672.2L237.4,666.5"/>
<path class="h" d="M217.4,705.8L224.9,707L225.5,710.8L218.7,710.8Z"/>
<path class="h" d="M223.7,649.7L229.3,649.7L229.3,651.6L224.3,652.2"/>
<path class="h" d="M231.1,619.8L237.4,619.8L237.4,621.7L231.8,622.3"/>
<path class="h" d="M237.4,583.7L243,583.7L243,585.6L238,586.2"/>
<path class="h" d="M248.6,589.9L254.8,593.7L254.8,601.1"/>
<path class="h" d="M247.3,570L248.6,602.4"/>
<path class="h" d="M216.1,700L221.1,707.4L227.3,708.7L229.2,714.9L247.3,721.1"/>
<path class="h" d="M217.4,690L216.1,700L211.1,727.4"/>
<path class="h" d="M224.8,690L226.1,701.2L234.8,709.9L236.1,714.9"/>
<path class="h" d="M232.3,690L232.9,702.5L238.6,708.7L238.6,714.9"/>
<path class="h" d="M239.8,690L241,706.2L244.8,714.9L257.2,719.3"/>
<path class="h" d="M247.3,690L247.9,711.2L259.7,719.3"/>
<path class="h" d="M218.6,706.2L226.1,707.4L226.7,711.8L219.9,711.2Z"/>
<path class="h" d="M229.8,716.2L246,721.8L246,724.9L229.8,719.3Z"/>
<path class="h" d="M216.1,722.1L221.7,723L221.7,724.9L216.1,724.3Z"/>
<path class="h" d="M247.9,729.9L231.1,723.9A4,6 0 0 0 229.8,733L247.9,738"/>
<path class="h" d="M244.8,742.3C244.2,746.1 241.5,757.7 241,764.7C240.6,771.8 241.3,779.5 242.3,784.7C243.3,789.9 246.4,794 247.3,795.9"/>
<path class="h" d="M249.1,739.8C248.5,744 245.8,757.1 245.4,764.7C245,772.4 245.6,780.9 246.7,785.9C247.7,790.9 250.8,793.2 251.6,794.6"/>
<path class="h" d="M211.8,763.5L217.4,761.6"/>
<path class="h" d="M212.6,771L217.4,772.2"/>
<path class="h" d="M211.8,777.8L216.1,779.7L238.6,785.9L239.8,793.4L211.1,789.7"/>
<path class="h" d="M224.2,782.8L233.6,784.7L234.2,791.5L224.2,790.3Z"/>
<ellipse class="h" cx="219.2" cy="785.9" rx="2.2" ry="3.6" transform="rotate(-10 219.2 785.9)"/>
<ellipse class="h" cx="236.7" cy="789.7" rx="2.2" ry="3.6" transform="rotate(-10 236.7 789.7)"/>
<path class="h" d="M211.1,793.4L246,802.1"/>
<path class="h" d="M213.6,795.9L216.1,802.1"/>
<path class="h" d="M223,797.8L225.5,804.6"/>
<path class="h" d="M236.1,800.9L233.6,807.7"/>
<path class="h" d="M217.4,803.4L232.3,807.7L231.7,804.6"/>
</g>

<!-- 30_house2.svg -->
<g id="house32">
<path class="h" d="M687.4,774.8C687.6,775.3 688,774.6 688.7,777.9C689.4,781.3 691.6,789.9 691.8,794.7C692,799.6 691.1,802 689.9,807.2C688.8,812.4 686.6,819.7 684.9,825.9C683.3,832.1 681.4,837.2 680,844.6C678.5,851.9 677.7,862.9 676.2,870C674.8,877.1 673.1,876.2 671.2,887.4C669.3,898.6 666.7,920.6 664.9,937.2C663.2,953.8 661.4,978.7 660.6,987C659.8,995.4 660.2,983.2 659.9,987.4C659.6,991.6 658.8,1006 658.7,1012.3C658.6,1018.6 659.2,1023.2 659.3,1025.4"/>
<path class="h" d="M687.4,774.8L694.9,763L727.3,747.4L737.3,749.9L782.1,731.2"/>
<path class="h" d="M782.1,731.2C784.6,732 792.6,734 797.1,736.2C801.5,738.4 806.9,742.9 808.9,744.3"/>
<path class="h" d="M737.3,749.9L746,754.9L762.2,763.6"/>
<path class="h" d="M694.9,763C699.1,762.7 711.3,762.5 719.8,761.1C728.3,759.8 741.6,755.9 746,754.9"/>
<path class="h" d="M688.7,777.9C693.9,777.7 710.5,778 719.8,776.7C729.2,775.3 737.7,772 744.7,769.8C751.8,767.7 759.3,764.6 762.2,763.6"/>
<path class="h" d="M762.2,763.6L809.5,745.5L814.5,740.6L820,738.7"/>
<path class="hm" d="M689.3,779.5C694.4,779.4 710.8,779.8 719.8,778.8C728.9,777.8 739.6,774.6 743.5,773.8"/>
<path class="h" d="M689.9,780L691.8,794.7L706.8,800.4L718.6,793.5L732.3,778.6"/>
<path class="l" d="M693,792.9L706.8,797.9L716.1,792.3L728.6,778.6"/>
<ellipse class="hw" cx="718" cy="787.3" rx="8" ry="6.5" transform="rotate(-20 718 787.3)"/>
<path class="h" d="M712.4,782.3A5,6 0 0 0 713,792.9"/>
<path class="hm" d="M743.5,773.8L761.6,795.4L737.9,801.2L729.5,813.2L689.9,814.1"/>
<path class="l" d="M742.9,776.7L757.2,794.5L736.7,799.1L727.9,810.9L690.6,811.9"/>
<path class="h" d="M688.1,818.7L726.7,818.4A1.5,1.5 0 0 1 726.7,821.2L687.4,821.9"/>
<path class="h" d="M685.6,826.1L724.8,825.6A1.5,1.5 0 0 1 724.8,827.4L684.9,829.6"/>
<path class="h" d="M683.7,833.6L722.9,833.1A1.5,1.5 0 0 1 722.9,834.9L683.1,837.1"/>
<path class="h" d="M682.5,840.8L721.1,839.8A1.5,1.5 0 0 1 721.1,841.5L681.8,844.2"/>
<path class="h" d="M680.6,847.9L731,847.1L737.9,854.3L757.2,849.6L758.2,852.3L749.7,860.8L724.8,870"/>
<path class="l" d="M679.3,852.3L729.5,849.3L737.3,855.8L755.3,851.1"/>
<path class="h" d="M677.5,858.9L724.8,855.8L728.3,858.5L724.8,870"/>
<path class="l" d="M677.2,860.8L723.6,857.8L726.1,859.5L722.9,870"/>
<path class="hv" d="M737.9,811.9L739.8,807.2L764.7,801.6L764.3,807.2Z"/>
<path d="M740.3,809.6L758.5,805.2" stroke="#fff" stroke-width=".7" fill="none"/>
<path d="M760,803.4l3,-.8l0,2.2l-3,.8z" fill="#fff"/>
<path class="hv" d="M736.7,821.9L737.9,817.2L765.9,810.9L766.5,816.5Z"/>
<path d="M738.8,819.5L760.2,814.5" stroke="#fff" stroke-width=".7" fill="none"/>
<path d="M761.7,812.7l3,-.8l0,2.2l-3,.8z" fill="#fff"/>
<path class="hv" d="M736,832.4L737.3,827.1L767.2,820.7L767.8,825.9Z"/>
<path d="M738.2,829.8L761.5,824.1" stroke="#fff" stroke-width=".7" fill="none"/>
<path d="M763,822.3l3,-.8l0,2.2l-3,.8z" fill="#fff"/>
<path class="hv" d="M741,836.5L767.2,829.6L767.8,834L744.7,840.6Z"/>
<path d="M755.6,833.1L750.3,838.1" stroke="#fff" stroke-width=".7" fill="none"/>
<path d="M751.8,836.3l3,-.8l0,2.2l-3,.8z" fill="#fff"/>
<path class="h" d="M759.7,774.8L808.3,756.8L820,758.6L807.4,756.6L821.1,758.5L828.6,774.7L832.3,798.4L829.8,830"/>
<path class="h" d="M759.7,774.8L775.9,789.1L820,774.8L775,789.6L826.1,772.8"/>
<path class="h" d="M775,802.1L783.7,792.7L821.7,778.4L824.8,812.1L786.2,828.2L776.2,827Z"/>
<path class="h" d="M760.3,857L820,835.9L824.7,833"/>
<path class="l" d="M761.2,857.3C765.6,855.6 779.3,850.2 787.4,847.3C795.5,844.4 804.4,841.7 809.8,839.8C815.2,838 817.3,837.2 819.8,836.1C822.3,835 823.9,833.5 824.7,833"/>
<path class="h" d="M778.4,860.8C781.1,858.7 787.6,851.8 794.6,848.3C801.5,844.8 818.5,839.6 820,839.6C821.5,839.6 802.4,848.5 803.6,848.6C804.8,848.6 820.4,842.7 827.2,839.8C834.1,836.9 839.7,835.3 844.7,831.1C849.7,827 853.8,820.5 857.1,814.9C860.5,809.3 863,801.6 864.6,797.5C866.3,793.3 866.7,791.2 867.1,790"/>
<path class="h" d="M827.2,839.8L832.2,797.5"/>
<path class="h" d="M782.1,731.2L798.7,706.8L813,713.6L815.5,716.1L837.9,709.9L834.8,706.8L822.3,699.9L843.5,694.3L851,696.2L862.2,691.8"/>
<path class="h" d="M862.2,691.8C864.5,693 872.2,695.5 875.9,698.7C879.6,701.9 882.3,706.4 884.6,711.1C886.9,715.9 889.4,722.6 889.8,727.3C890.3,732.1 888.4,736.1 887.1,739.8C885.8,743.5 883,748.1 882.1,749.8"/>
<path class="h" d="M851,696.2C853.7,698.7 863.2,705.5 867.2,711.1C871.1,716.8 872.9,723.4 874.6,729.8C876.3,736.3 877.4,744.8 877.4,749.8C877.4,754.7 875.9,756 874.6,759.7C873.4,763.5 870.9,766.8 869.7,772.2C868.4,777.6 868.8,786.1 867.2,792.1C865.5,798.1 863,802 859.7,808.3C856.4,814.6 849.3,826.4 847.2,830"/>
<path class="h" d="M781.8,730.5L808.6,744.8L770,761"/>
<path class="h" d="M808.6,744.8L813.6,741L821.1,737.9"/>
<path class="h" d="M833.5,734.2C836.4,733.2 845,730.6 851,728C857,725.4 866.5,720.2 869.7,718.6"/>
<ellipse class="hw" cx="824.6" cy="733.8" rx="9" ry="5.6" transform="rotate(38 824.6 733.8)"/>
<ellipse class="hw" cx="875.3" cy="708.4" rx="5" ry="8.4" transform="rotate(-28 875.3 708.4)"/>
<path class="h" d="M822.3,699.9L823.6,706.8L813,713.6"/>
<path class="h" d="M823.6,706.8L834.8,704.3L842.9,701.4L843.8,703.7L836.7,706.4L837.9,709.9"/>
<ellipse class="hw" cx="880.3" cy="751.6" rx="1.8" ry="4" transform="rotate(30 880.3 751.6)"/>
<path class="hm" d="M873.4,742.3L872.2,759.7"/>
<path class="h" d="M832.3,741C835.6,742.7 848.1,746.7 852.2,751C856.4,755.4 856,760.4 857.2,767.2C858.5,774.1 859.7,785.9 859.7,792.1C859.7,798.4 858.9,799.4 857.2,804.6C855.5,809.8 851.8,819 849.7,823.3C847.7,827.5 845.6,828.9 844.7,830"/>
<path class="h" d="M832.9,754.7C834.1,755.6 838,756 839.8,759.7C841.5,763.5 842.7,771.8 843.5,777.2C844.3,782.6 845,785.3 844.7,792.1C844.5,799 843.7,812.7 842.3,818.3C840.8,823.9 837.3,826 836,825.8C834.8,825.6 834.6,822.6 834.8,817C835,811.4 837.3,800.4 837.3,792.1C837.3,783.8 835.5,773.4 834.8,767.2C834.1,761 833.2,756.8 832.9,754.7"/>
<path class="l" d="M835.4,758.5C835.9,759 837.4,756 838.5,761.6C839.6,767.2 841.8,783 842,792.1C842.2,801.3 840.6,811.6 839.8,816.4C838.9,821.2 837.5,820 837,820.8"/>
<path class="h" d="M843.5,754.7C844.5,755.4 848.1,754.7 849.7,758.5C851.4,762.2 852.6,771.6 853.5,777.2C854.3,782.8 855.3,784.9 854.7,792.1C854.1,799.4 851.4,815 849.7,820.8C848.1,826.6 845.2,829.7 844.7,827C844.3,824.3 846.7,812.5 847.2,804.6C847.8,796.7 848.5,788 847.9,779.7C847.2,771.4 844.2,758.9 843.5,754.7"/>
<path class="l" d="M846.2,759.7C847,763.1 850.1,773.2 851,779.7C851.9,786.1 852.1,791.7 851.6,798.4C851.1,805 848.5,816 847.9,819.5"/>
<path class="l" d="M828.6,774.7C829.6,779.7 834.2,795.4 834.8,804.6C835.4,813.8 832.7,825.8 832.3,830"/>
<path class="h" d="M678.7,858.1L723.5,855L727.9,860L702.3,888.6L674.9,877.4"/>
<path class="l" d="M679.3,860.6L722.3,857.2L724.7,860.6L701.7,886.1L675.5,875.5"/>
<ellipse class="hw" cx="707.9" cy="867.4" rx="7" ry="6" transform="rotate(-20 707.9 867.4)"/>
<path class="h" d="M670.6,896.1C672.5,896.7 679,898.2 682.4,899.8C685.8,901.5 689.2,904.2 691.1,906.1C693,907.9 693.2,910.2 693.6,911"/>
<path class="h" d="M693.6,911L687.4,957.1L663.7,945.3"/>
<path class="l" d="M669.9,898C671.8,898.6 677.9,900.1 681.1,901.7C684.4,903.3 687.6,905.5 689.2,907.3C690.9,909.1 690.8,911.5 691.1,912.3"/>
<path class="l" d="M691.1,912.3L685.5,954L664.9,944.1"/>
<path class="h" d="M758.4,850L702.3,911.7L697.3,947.8L707.3,960.9L701.1,993.3L689.9,1000"/>
<path class="l" d="M754.6,850L699.2,911L694.2,949L704.2,962.1L698.3,992L687.4,1000"/>
<path class="h" d="M687.4,957.1L696.7,960.9L691.1,988.3L660.6,995.1"/>
<path class="h" d="M662.5,980.8C665.6,980.4 677,979.6 681.1,978.3C685.3,977.1 686.1,976.7 687.4,973.3C688.6,970 688.4,960.9 688.6,958.4"/>
<path class="l" d="M693.6,960.3L689.9,986.4L660.6,993.3"/>
<path class="h" d="M773.3,868.7L769.6,876.2L740.9,886.1Q736,887.4 735.7,892.4L732.2,955.9Q731.6,962.1 728.5,964.6L720.4,971.5L712.3,970.2L708.6,1000"/>
<path class="l" d="M718.3,969.6L719.8,972.7L721.6,970.2"/>
<path class="h" d="M752.2,871.2L769,868.7Q772.7,869.9 770.2,874.3L749.7,881.1Q744.7,879.9 752.2,871.2Z"/>
<ellipse class="h" cx="766.5" cy="862.8" rx="1.2" ry="5.5" transform="rotate(52 766.5 862.8)"/>
<path class="h" d="M759.6,857.5L800,842.3"/>
<path class="h" d="M774.6,866.8C775.4,865.1 777.3,859.2 779.6,856.2C781.8,853.2 784.9,850.8 788.3,848.8C791.7,846.7 798,844.6 800,843.8"/>
<path class="h" d="M713.5,975.8L717.3,974.6L712.3,1000"/>
<path class="h" d="M699.8,950C700.8,952.1 705.2,956.2 706,962.5C706.9,968.7 705.8,980.7 704.8,987.4C703.7,994 700.6,999.8 699.8,1002.3"/>
<path class="h" d="M699.8,1002.3L699.8,1007.3L702.3,1019.8L712.3,1023.5"/>
<path class="l" d="M694.8,950C696.1,951.9 701.1,955 702.3,961.2C703.4,967.4 702.6,980.5 701.7,987.4C700.7,994.2 697.5,999.8 696.7,1002.3"/>
<path class="h" d="M711.6,971.2C712.2,971 713.9,969.3 714.7,969.9C715.6,970.6 716.8,972 716.6,974.9C716.4,977.8 714.3,981.6 713.5,987.4C712.7,993.2 711.2,1002.5 711.6,1009.8C712,1017.1 714.4,1026 716,1031C717.6,1036 720.1,1038.2 721,1039.7"/>
<path class="h" d="M721,1039.7L717.2,1053.4L714.7,1055.3L673.6,1045.3L659.3,1025.4"/>
<path class="l" d="M709.8,974.9C710.4,974.8 713.5,970.1 713.5,974.3C713.5,978.4 710.5,994.5 709.8,999.8C709,1005.1 709.2,1005 709.1,1006.1"/>
<path class="l" d="M712.3,970.6L707.3,1002.3L699.8,1007.9"/>
<path class="hk" d="M658.7,1012.3C661.8,1013.1 670.5,1014.8 677.4,1017.3C684.2,1019.8 693.3,1023.9 699.8,1027.2C706.3,1030.6 713.5,1035.5 716.2,1037.2"/>
<path class="l" d="M659.9,1014.8C662.8,1015.6 670.9,1017.3 677.4,1019.8C683.8,1022.3 692.3,1026.5 698.6,1029.7C704.8,1032.9 712,1037.5 714.7,1039.1"/>
<path class="h" d="M659.3,1025.4L714.7,1048.4L717.2,1053.4"/>
<path class="h" d="M714.7,1037.2L714.7,1048.4"/>
<path class="l" d="M719.1,1039.1L718.5,1047.2"/>
<ellipse class="hw" cx="686.1" cy="1009.8" rx="7.4" ry="6.8" transform="rotate(-15 686.1 1009.8)"/>
<path class="h" d="M660.6,981.8C662.9,981.5 670.6,981 674.9,979.9C679.1,978.8 683.8,978.9 686.1,974.9C688.4,971 688.1,960.4 688.6,956.2C689.1,952.1 689.1,951 689.2,950"/>
<path class="h" d="M660.6,996.7C664,996 675.8,994.1 681.1,992.4C686.4,990.6 689.9,991.5 692.3,986.1C694.7,980.7 695,966 695.4,960C695.9,953.9 694.9,951.7 694.8,950"/>
<path class="l" d="M659.9,1003.6C663.7,1002.9 675.9,1001.7 682.4,999.8C688.8,998 695.9,993.6 698.6,992.4"/>
<path class="l" d="M677.4,950L687.3,957.5"/>
</g>

<!-- 40_motor.svg -->
<g id="motor">
<path class="mw" d="M797.4,497.4L808.7,494.9L809.2,499.9L802.5,499.7M807.4,503L818.7,500.6L819.2,505.6L812,507.2M816.2,512.2L827.5,509.7L828,514.7L819.8,517.8M822.8,524L834.1,521.5L834.6,526.5L825.2,530.5M826.7,537.2L838,534.8L838.5,539.8L827.5,544M827.5,550.7L838.7,548.2L839.2,553.2L826.6,557.1M825,563L836.2,560.6L836.7,565.6L822.6,568.4M819.5,573L830.7,570.5L831.2,575.5L815.8,576.8"/>
<path class="mw" d="M776.5,499.1L784.9,495.8L780.6,497.1"/>
<path class="mw" d="M784.9,496.1L793.3,492.8L789.4,495.8"/>
<path class="mw" d="M802.8,584.3A32.8,45.2 -17 0 1 773.2,498.9L775.2,498.1A32.8,45.2 -17 0 1 804.9,583.5Z"/><ellipse class="mw" cx="788" cy="541.6" rx="32.8" ry="45.2" transform="rotate(-17 788 541.6)"/>
<ellipse class="m" cx="788.5" cy="541.4" rx="25" ry="33.4" transform="rotate(-17 788.5 541.4)"/>
<path class="l" d="M812.3,536.5L797.2,539.2M812.9,539L797.4,540.4M813.6,545.6L797.5,541.7M813.6,548.1L797.5,542.9M812.8,554.3L797.4,544.1M812.2,556.6L797.1,545.2M810,562.1L796.6,546.2M809,563.9L796.1,547.1M805.5,568.1L795.4,547.9M804,569.4L794.7,548.5M799.7,572L793.9,548.9M797.9,572.6L793,549.2M792.9,573.4L792.1,549.3M790.9,573.3L791.1,549.2M785.7,572.2L790.1,549M783.8,571.4L789.2,548.5M778.8,568.5L788.3,547.9M777,567.1L787.4,547.2M772.7,562.6L786.6,546.3M771.2,560.7L785.9,545.3M767.8,555L785.3,544.2M766.8,552.7L784.8,543M764.6,546.3L784.4,541.8M764.1,543.8L784.2,540.6M763.4,537.2L784.1,539.3M763.4,534.7L784.1,538.1M764.1,528.4L784.2,536.9M764.7,526.2L784.5,535.8M766.9,520.7L785,534.8M768,518.9L785.5,533.9M771.4,514.7L786.2,533.1M772.9,513.4L786.9,532.5M777.3,510.8L787.7,532.1M779.1,510.2L788.6,531.8M784.1,509.4L789.5,531.7M786,509.5L790.5,531.8M791.2,510.6L791.5,532M793.1,511.4L792.4,532.5M798.1,514.3L793.3,533.1M799.9,515.7L794.2,533.8M804.3,520.2L795,534.7M805.7,522.1L795.7,535.7M809.1,527.8L796.3,536.8M810.2,530.1L796.8,537.9"/>
<ellipse class="w" cx="790.8" cy="540.5" rx="6.5" ry="9" transform="rotate(-17 790.8 540.5)"/>
<path class="w" d="M741.4,590.9A24,29.3 -17 0 1 721.6,535.8L762.7,519.9A24,29.3 -17 0 1 782.4,575.1Z"/>
<path class="w" d="M741.4,590.9A24,29.3 -17 0 1 721.6,535.8L760.4,520.8A24,29.3 -17 0 1 780.1,576Z"/>
<path class="w" d="M741.4,590.9A24,29.3 -17 0 1 721.6,535.8L758,521.7A24,29.3 -17 0 1 777.8,576.9Z"/>
<path class="mw" d="M741.4,590.9A24,29.3 -17 0 1 721.6,535.8L756.9,522.2A24,29.3 -17 0 1 776.7,577.3Z"/><ellipse class="mw" cx="731.5" cy="563.3" rx="24" ry="29.3" transform="rotate(-17 731.5 563.3)"/>
<path class="l" d="M726.1,534A24,29.3 -17 1 1 746,589.1"/>
<path class="l" d="M727.5,533.5A24,29.3 -17 1 1 747.4,588.6"/>
<path class="mw" d="M691.2,556.7A15.4,20.8 -17 1 1 703.1,595.9L719.2,591.4A15.8,22.4 -17 1 0 706.3,549.2Z"/>
<path d="M704.3,550.3A16.1,22.7 -17 1 1 718.1,591.7" fill="none" stroke="#141414" stroke-width="2.6" stroke-dasharray="1.7 .9"/>
<path class="m" d="M703.9,550.8A15.6,22 -17 1 1 717.5,591.7"/>
<path d="M693.1,555.8L706.8,549.3M696.1,555.2L709.8,548.7M699.3,555.4L713.1,548.9M702.5,556.4L716.3,550M705.6,558.1L719.5,551.9M708.4,560.6L722.4,554.5M710.9,563.6L724.9,557.7M712.9,567.2L727.1,561.5M714.4,571.1L728.6,565.6M715.3,575.1L729.6,569.9M715.6,579.2L730,574.2M715.3,583.1L729.7,578.3M714.3,586.7L728.7,582.1M712.7,589.9L727.2,585.5M710.7,592.5L725.1,588.2M708.1,594.4L722.5,590.2M705.3,595.6L719.6,591.3" fill="none" stroke="#141414" stroke-width="1.7"/>
<ellipse class="mw" cx="699.7" cy="575.6" rx="15.4" ry="20.8" transform="rotate(-17 699.7 575.6)"/>
<path class="w" d="M695.3,584.1A4.3,6.4 -17 0 1 691.1,572L697.9,568.5A4.6,7.2 -17 0 1 702.5,582.2Z"/><ellipse class="w" cx="693.2" cy="578.1" rx="4.3" ry="6.4" transform="rotate(-17 693.2 578.1)"/>
<path class="l" d="M699.2,582A4.4,6.6 -17 1 1 695.8,571.1"/>
<path class="w" d="M685.9,586.1A3.7,4.9 -17 0 1 682.7,576.9L691.1,573.6A3.7,4.9 -17 0 1 694.3,582.9Z"/><ellipse class="w" cx="684.3" cy="581.5" rx="3.7" ry="4.9" transform="rotate(-17 684.3 581.5)"/>
<path class="w" d="M859.6,533A14.2,17.7 -17 0 1 847.8,499.6L857.3,496A14.2,17.7 -17 0 1 869.2,529.3Z"/><ellipse class="w" cx="853.7" cy="516.3" rx="14.2" ry="17.7" transform="rotate(-17 853.7 516.3)"/><ellipse class="l" cx="853.7" cy="516.3" rx="12.7" ry="16.1" transform="rotate(-17 853.7 516.3)"/><ellipse cx="854.7" cy="515.9" rx="8.2" ry="9.9" transform="rotate(-17 854.7 515.9)" fill="none" stroke="#161616" stroke-width="2"/><ellipse class="l" cx="854.9" cy="515.9" rx="5.7" ry="7.1" transform="rotate(-17 854.9 515.9)"/><path class="t" d="M857.6,508.6A5.7,7.1 -17 0 1 861.2,520.3"/>
<path class="w" d="M649,612.6A11.6,16.4 -17 0 1 638.4,581.6L646.8,578.4A11.6,16.4 -17 0 1 657.4,609.4Z"/><ellipse class="w" cx="643.7" cy="597.1" rx="11.6" ry="16.4" transform="rotate(-17 643.7 597.1)"/><ellipse class="l" cx="643.7" cy="597.1" rx="10.1" ry="14.8" transform="rotate(-17 643.7 597.1)"/><ellipse cx="644.7" cy="596.7" rx="6.7" ry="9.2" transform="rotate(-17 644.7 596.7)" fill="none" stroke="#161616" stroke-width="2"/><ellipse class="l" cx="644.9" cy="596.7" rx="4.6" ry="6.6" transform="rotate(-17 644.9 596.7)"/><path class="t" d="M647.3,590A4.6,6.6 -17 0 1 650.6,600.9"/>
</g>

<!-- 41_stator.svg -->
<g id="stator24">
<path class="mw" d="M561.9,602.9C563.7,603.2 568.8,602.5 572.6,604.9C576.3,607.3 581.3,612.5 584.5,617.5C587.7,622.5 590.7,629.5 591.8,634.8C593,640.1 592.4,645 591.2,649.4C590,653.8 587.2,657.8 584.5,661.4C581.9,664.9 576.8,669.1 575.2,670.7"/>
<path class="wf" d="M488.9,603.6L530,587.6L546,592.3L561.9,602.9L572.6,618.9L577.2,638.8L577.9,657.4L575.2,668L538,689.3L519.4,697.3L507.5,693.9L498.2,691.9L490.2,681.3L484.9,641.4L480.9,610.2Z"/>
<path class="mw" d="M480.9,610.2C482.2,609.1 485.5,605.3 488.9,603.6C492.2,601.8 497,599.9 500.8,599.6C504.6,599.3 508.3,600.4 511.4,601.6C514.5,602.8 516.3,604 519.4,606.9C522.5,609.8 526.9,614.2 530,618.9C533.2,623.5 535.8,628.8 538,634.8C540.2,640.8 542.6,648.8 543.3,654.7C544.1,660.7 543.6,665.6 542.7,670.7C541.8,675.8 540.1,681.3 538,685.3C535.9,689.3 533.2,692.6 530,694.6C526.9,696.6 523.2,697.4 519.4,697.3C515.7,697.1 511,694.8 507.5,693.9C503.9,693.1 501,694 498.2,691.9C495.3,689.8 491.5,683.1 490.2,681.3"/>
<path class="m" d="M488.9,603.6L530,587.6L546,592.3"/>
<path class="l" d="M500.8,599.6L530,587.6"/>
<path class="m" d="M519.4,606.9L546,592.3"/>
<path class="m" d="M546,592.3C548.7,594 557.5,598.5 561.9,602.9C566.4,607.3 570,612.9 572.6,618.9C575.1,624.8 576.3,632.4 577.2,638.8C578.1,645.2 578.2,652.5 577.9,657.4C577.6,662.3 575.7,666.3 575.2,668"/>
<path class="m" d="M519.4,697.3L538,689.3L575.2,668"/>
<path class="m" d="M544.7,633.5L574.6,622.8"/>
<path class="m" d="M546,644.1L574.6,636.1"/>
<path class="l" d="M546,647.4L569.9,640.1"/>
<path class="l" d="M569.9,640.1L575.9,644.1"/>
<path class="m" d="M546,654.7L571.2,646.1"/>
<path class="l" d="M547.3,657.7L576.6,651.4"/>
<path class="m" d="M546,663.4L576.6,654.7"/>
<path class="l" d="M543.3,678.7L576.6,666.7"/>
<path class="l" d="M574.6,636.1L575.9,644.1L576.6,654.7"/>
<path class="l" d="M569.9,640.1L571.2,646.1"/>
<path class="mw" d="M480.9,610.2C478.2,612.3 468.9,618.1 464.9,622.8C460.9,627.6 458.1,633.5 457,638.8C455.9,644.1 456.7,649.4 458.3,654.7C459.8,660 462.5,666.4 466.3,670.7C470,675 476.9,678.9 480.9,680.6C484.9,682.4 488.6,681.2 490.2,681.3"/>
<path class="mw" d="M486.2,608.9C486.7,609.9 489.2,612.8 489.5,614.9C489.9,617 489.1,618.6 488.2,621.5C487.3,624.4 485.2,628.4 484.2,632.1C483.2,635.9 482.2,639.9 482.2,644.1C482.2,648.3 483.1,653 484.2,657.4C485.3,661.8 487.7,667.4 488.9,670.7C490,674 490.6,675.6 490.8,677.3C491.1,679.1 490.3,680.6 490.2,681.3"/>
<path class="m" d="M480.9,610.2C481.3,609.9 482.7,608.4 483.5,608.2C484.4,608 485.8,608.8 486.2,608.9"/>
<path class="m" d="M490.2,610.2C491.1,609.8 493.7,607.7 495.5,607.6C497.3,607.4 499.5,608.6 500.8,609.6C502.1,610.5 501.9,612.8 503.5,613.5C505,614.3 508.3,614.4 510.1,614.2C511.9,614 512.6,612.3 514.1,612.2C515.7,612.1 517.6,612.7 519.4,613.5C521.2,614.4 523.8,616.9 524.7,617.5"/>
<path class="m" d="M490.2,681.3C491.1,681.8 493.5,683.5 495.5,684C497.5,684.4 500.6,684.4 502.1,684C503.7,683.5 502.8,681.5 504.8,681.3C506.8,681.1 511.7,681.8 514.1,682.6C516.5,683.5 518.5,686 519.4,686.6"/>
<ellipse class="mw" cx="507.2" cy="608.2" rx="2.8" ry="3.7" transform="rotate(-15 507.2 608.2)"/>
<ellipse class="mw" cx="509.5" cy="689.6" rx="2.8" ry="3.7" transform="rotate(-15 509.5 689.6)"/>
<path class="m" d="M496.2,620.8C494.7,622.5 489.4,626.9 487.5,630.8C485.6,634.7 484.9,639.2 484.9,644.1C484.9,649 485.8,655.3 487.5,660C489.3,664.8 494.2,670.6 495.5,672.7"/>
<path class="l" d="M494.2,618.9C492.6,620.8 486.8,626.6 484.9,630.8C482.9,635 482.4,639 482.5,644.1C482.6,649.2 483.7,656.4 485.5,661.4C487.4,666.4 491.7,671.9 493.5,674C495.3,676.1 495.7,674 496.2,674"/>
<path class="l" d="M490.2,621.5L495.5,619.5L496.2,620.8"/>
<path class="m" d="M495.5,672.7L498.2,673.6L519.4,665.4"/>
<path class="mw" d="M525.4,617.5C528.3,618.7 533.8,622.8 536.7,628.2C539.6,633.5 541.8,642.3 542.7,649.4C543.6,656.5 543,664.7 542,670.7C541,676.7 539.1,682 536.7,685.3C534.3,688.6 530.2,690.4 527.4,690.6C524.6,690.8 521.4,688.6 520.1,686.6C518.8,684.6 519.2,682.9 519.4,678.7C519.6,674.4 521.4,667.6 521.4,661.4C521.4,655.2 520.2,647 519.4,641.4C518.6,635.9 516.8,631.6 516.8,628.2C516.8,624.7 518,622.6 519.4,620.8C520.9,619.1 522.5,616.3 525.4,617.5Z"/>
<path class="l" d="M520.7,614.9C520.2,615.8 518.3,618 517.4,620.2C516.5,622.4 515.4,624.6 515.4,628.2C515.4,631.7 517.1,639.2 517.4,641.4"/>
</g>

<!-- 50_small.svg -->
<g id="small">
<path class="mw" d="M685.6,418.7L695.6,413.5L708.6,416.8L708.6,419.9L698.7,424.3L685.6,422.2Z"/>
<path class="m" d="M685.6,418.7L698.7,420.6L708.6,416.8"/>
<path class="m" d="M698.7,420.6L698.7,424.3"/>
<path class="mw" d="M691.8,443L699.9,437.4L708.6,441.8L708.4,443.9L699.3,447.6L698,448L692.4,451.1L688.7,449.9L688.7,448L692.4,445.5Z"/>
<path class="l" d="M692.4,445.5L698.4,446.4L699.3,447.6"/>
<path class="l" d="M698.4,446.4L708.4,442.4"/>
<path class="l" d="M688.7,448.4L692.4,449.6L698,446.7"/>
<path class="mw" d="M692.4,473.5L699.3,474.5L707.4,471.1L707.4,488.5L699.3,492.2L692.4,490.8Z"/>
<path class="m" d="M699.3,474.5L699.3,492.2"/>
<path class="m" d="M692.4,473.5L700.5,470.4L707.4,471.1"/>
<path class="b" d="M693.7,463L704.9,463L705.2,472.3L693.4,472.9Z"/>
<path class="mw" d="M688.4,461.3L698,457.6L709.9,460.5L705.2,463.3L693.4,463.3Z"/>
<path class="m" d="M688.4,461.3L688.4,462.1L693.7,464.1"/>
<path class="mw" d="M686.2,506.6L699.9,501L718,504.5L718,532.1L704.7,538.4L686.8,535.3Z"/>
<path class="m" d="M686.2,506.6L704.3,510.9L718,504.5"/>
<path class="m" d="M704.3,510.9L704.7,538.4"/>
<path class="l" d="M689.9,506.2L700.5,502.8L713.6,505.3L704.3,509.1Z"/>
<path class="m" d="M692.2,508.2L692.2,514.1L694.9,514.7L694.9,511.6L696.8,510.9L696.8,509.4"/>
<path class="l" d="M700.5,502.8L700.5,506"/>
<rect class="m" x="688.9" y="526.2" width="10.5" height="4.4" rx="2.2" transform="rotate(5 688.9 526.2)"/>
<path class="m" d="M709.3,518.4L713.6,516.6L713.6,527.2L709.3,529Z"/>
<path class="l" d="M710.1,519.4L710.1,527.8"/>
<path class="mw" d="M695.5,604.3L708.2,599.3L726.5,602.8L726.5,629.7L713.1,636L696.2,632.5Z"/>
<path class="m" d="M695.5,604.3L713.1,609.2L726.5,602.8"/>
<path class="m" d="M713.1,609.2L713.1,636"/>
<path class="b" d="M703.9,602.6L708.9,600.3L717.4,602.3L712.4,605.1Z"/>
<path d="M706.8,602.6L709.6,601.4L712.8,602.6Z" fill="#fff"/>
<path class="m" d="M701.1,633.6L701.1,627.6L705.4,628.3L705.4,634.8"/>
<rect class="m" x="697.6" y="613.4" width="10.5" height="4.4" rx="2.2" transform="rotate(8 697.6 613.4)"/>
<path class="m" d="M717.4,613.4L721.6,611.3L721.6,622.6L717.4,624.7Z"/>
<path class="l" d="M718.3,614.4L718.3,623.7"/>
<path class="mw" d="M705.3,647.5L716,644.5L721,646.2L721,663.7L711,666.2L705.3,663.7Z"/>
<path class="m" d="M705.3,647.5L711,649.5L721,646.2"/>
<path class="m" d="M711,649.5L711,666.2"/>
<path class="b" d="M706.8,664.9L719.2,663.4L719.2,672.9L706.8,674.4Z"/>
<path class="b" d="M702.3,674.4L714.8,671.4L726,673.9L714.8,677.9Z"/>
<path d="M706.8,674.4L714.8,672.6L721.7,674.1L714.8,676.4Z" fill="#fff"/>
<path class="mw" d="M703.5,696.1L705.3,692.8L710.3,691.8L714.8,688.6L723.5,692.8L722.7,695.3L714.8,699.3L710.3,697.8L706.8,700.3L703.5,699.3Z"/>
<path class="l" d="M710.3,694.3L714.8,696.1L722.7,693.3"/>
<path class="l" d="M705.3,695.3L710.3,696.3"/>
<path class="mw" d="M705.3,709.8L716,706L728.5,709.3L728.5,712.3L718.5,715.5L705.3,712.8Z"/>
<path class="m" d="M705.3,709.8L718.5,712.8L728.5,709.3"/>
<path class="m" d="M718.5,712.8L718.5,715.5"/>
<path class="mw" d="M376.9,632.3L386.3,622.3L425.5,637.7L427.4,643.5L423.7,653.4L414.7,656.2L376.9,640.2Z"/>
<path class="m" d="M376.9,632.3L415.5,647.2L425.5,637.7"/>
<path class="m" d="M415.5,647.2L414.7,656.2"/>
<path class="m" d="M417.2,648.5L424.2,644L425,647.7L418,652.7Z"/>
<path class="m" d="M391.8,646L392.6,650.2L397.3,651.7L399.3,649.2"/>
<path class="wf" d="M375.8,671.4C379.3,670.8 388.2,667.8 396.8,667.9C405.3,668.1 423.2,669.6 427.2,672.4C431.2,675.2 422.5,681 420.7,684.9C419,688.8 417.7,691.7 416.7,695.8C415.7,700 415.1,704.1 414.7,709.8C414.3,715.4 414.6,724.7 414.2,729.7C413.9,734.7 413.3,737.4 412.7,739.7C412.2,742 412.7,742.3 410.7,743.7C408.7,745.1 403.4,747.4 400.8,748.2C398.1,748.9 396.6,748.3 394.8,748.2C393,748 390.6,747.3 389.8,747.2"/>
<path class="wf" d="M341.5,678.9L371.9,673.9L375.8,671.4L396.8,667.9L427.2,672.4L420.7,684.9L414.7,709.8L412.7,739.7L400.8,748.2L389.8,747.2L357.9,753.7L335.5,748.7L338.5,699.3L340,698.8Z"/>
<path class="m" d="M375.8,671.4L396.8,667.9L427.2,672.4"/>
<path class="m" d="M427.2,672.4C426.1,674.5 422.5,681 420.7,684.9C419,688.8 417.7,691.7 416.7,695.8C415.7,700 415.1,704.1 414.7,709.8C414.3,715.4 414.6,724.7 414.2,729.7C413.9,734.7 413.3,737.4 412.7,739.7C412.2,742 412.7,742.3 410.7,743.7C408.7,745.1 403.4,747.4 400.8,748.2C398.1,748.9 396.6,748.3 394.8,748.2C393,748 390.6,747.3 389.8,747.2"/>
<path class="l" d="M377.8,672.7L396.8,669.5L418.7,673.9L404.8,679.1L393.8,679.9"/>
<path class="m" d="M404.8,679.1L403.8,689.9L400.8,747.9"/>
<path class="l" d="M418.7,673.9L427.2,672.4"/>
<path class="m" d="M341.5,678.9L371.9,673.9L372.9,674.4L372.9,682.4L363.4,683.9L341.5,678.9L340,698.8L361.4,703.8L363.4,683.9"/>
<path class="m" d="M338.5,699.3L335.5,748.7L357.9,753.7L361.4,704.3L338.5,699.3"/>
<path class="m" d="M357.9,753.7L389.8,747.2L390.3,740.2L394.8,738.7L396.8,698.8L393.8,697.8L393.8,679.9L374.9,676.9L375.8,671.4"/>
<path class="m" d="M372.9,682.4L374.9,692.8L371.9,733.7L367.9,734.7L367.9,740.7L366.4,741.7L358.4,743.7"/>
<path class="l" d="M335.5,748.7L357.9,745.7L389.8,740.2"/>
<path class="l" d="M396.8,698.8L399.3,747.7"/>
<path class="mw" d="M397.3,658.9L404.8,658.9L404.8,683.9L402.3,685.9L397.3,683.9Z"/>
<path class="l" d="M402.3,659.9L402.3,685.9"/>
<path class="m" d="M348.9,680.9L352.4,680.4L352.4,685.4L348.9,685.9Z"/>
<path class="m" d="M363.9,678.4L367.4,677.9L367.4,682.1L363.9,682.6Z"/>
<path class="b" d="M370.9,685.4L374.4,684.9L374.4,690.3L370.9,690.8Z"/>
<path class="b" d="M385.8,682.9L389.3,682.4L389.3,688.4L385.8,688.9Z"/>
<ellipse class="m" cx="340.8" cy="704.8" rx="1.6" ry="3" transform="rotate(0 340.8 704.8)"/>
<ellipse class="m" cx="356.4" cy="738.2" rx="2" ry="3" transform="rotate(0 356.4 738.2)"/>
<path class="mw" d="M395.5,778C396.4,775.8 401.4,771.6 404.3,770.6C407.2,769.5 410.7,770.9 413,771.8C415.3,772.8 414.9,775.9 418,776.3C421.1,776.7 428.6,773.8 431.7,774.3C434.8,774.8 436.3,777.4 436.7,779.3C437.1,781.2 435.8,783.9 434.2,785.5C432.5,787.2 429.6,788.6 426.7,789.3C423.8,789.9 419.2,789.9 416.7,789.3C414.2,788.6 414.7,786.3 411.7,785.5C408.8,784.7 402,785.5 399.3,784.3C396.6,783 394.7,780.3 395.5,778Z"/>
<ellipse class="m" cx="408" cy="780.5" rx="3.6" ry="2.6" transform="rotate(-10 408 780.5)"/>
<ellipse class="m" cx="429.2" cy="782.5" rx="3.6" ry="2.6" transform="rotate(-10 429.2 782.5)"/>
<path class="l" d="M398,775.5C399.3,775.4 403,774.6 405.5,774.8C408,775 411.1,775.4 413,776.8C414.9,778.2 416.1,782 416.7,783"/>
<path class="l" d="M419.2,779.3C420.3,779 423.2,777.6 425.5,777.3C427.7,777 431.7,777.3 432.9,777.3"/>
<path class="l" d="M396.8,778.8L397.3,783"/>
<path class="mw" d="M915.4,713L895.8,708.7A3.2,3.2 0 0 0 894.5,714.9L914,719.3"/><ellipse class="mw" cx="917.6" cy="716.8" rx="4.9" ry="7.1" transform="rotate(-12 917.6 716.8)"/><path d="M919.2,714.2l.6,5.4M917,717.6l4.4,-1" stroke="#111" stroke-width="2" fill="none"/><path d="M920.8,712.8A3,5 -12 0 1 920.2,721.8" stroke="#111" stroke-width="1.6" fill="none"/>
<path class="mw" d="M927.4,758.9L907.8,754.6A3.2,3.2 0 0 0 906.5,760.8L926,765.2"/><ellipse class="mw" cx="929.6" cy="762.7" rx="4.9" ry="7.1" transform="rotate(-12 929.6 762.7)"/><path d="M931.2,760.1l.6,5.4M929,763.5l4.4,-1" stroke="#111" stroke-width="2" fill="none"/><path d="M932.8,758.7A3,5 -12 0 1 932.2,767.7" stroke="#111" stroke-width="1.6" fill="none"/>
<path class="mw" d="M905,783.8L885.4,779.5A3.2,3.2 0 0 0 884.1,785.7L903.6,790.1"/><ellipse class="mw" cx="907.2" cy="787.6" rx="4.9" ry="7.1" transform="rotate(-12 907.2 787.6)"/><path d="M908.8,785l.6,5.4M906.6,788.4l4.4,-1" stroke="#111" stroke-width="2" fill="none"/><path d="M910.4,783.6A3,5 -12 0 1 909.8,792.6" stroke="#111" stroke-width="1.6" fill="none"/>
<path class="mw" d="M893.7,820.7L874.1,816.4A3.2,3.2 0 0 0 872.8,822.6L892.3,827"/><ellipse class="mw" cx="895.9" cy="824.5" rx="4.9" ry="7.1" transform="rotate(-12 895.9 824.5)"/><path d="M897.5,821.9l.6,5.4M895.3,825.3l4.4,-1" stroke="#111" stroke-width="2" fill="none"/><path d="M899.1,820.5A3,5 -12 0 1 898.5,829.5" stroke="#111" stroke-width="1.6" fill="none"/>
<path class="mw" d="M873.3,835.1L853.7,830.8A3.2,3.2 0 0 0 852.4,837L871.9,841.4"/><ellipse class="mw" cx="875.5" cy="838.9" rx="4.9" ry="7.1" transform="rotate(-12 875.5 838.9)"/><path d="M877.1,836.3l.6,5.4M874.9,839.7l4.4,-1" stroke="#111" stroke-width="2" fill="none"/><path d="M878.7,834.9A3,5 -12 0 1 878.1,843.9" stroke="#111" stroke-width="1.6" fill="none"/>
<path class="mw" d="M827.7,860L808.1,855.7A3.2,3.2 0 0 0 806.8,861.9L826.3,866.3"/><ellipse class="mw" cx="829.9" cy="863.8" rx="4.9" ry="7.1" transform="rotate(-12 829.9 863.8)"/><path d="M831.5,861.2l.6,5.4M829.3,864.6l4.4,-1" stroke="#111" stroke-width="2" fill="none"/><path d="M833.1,859.8A3,5 -12 0 1 832.5,868.8" stroke="#111" stroke-width="1.6" fill="none"/>
<path class="mw" d="M797.3,886.5L777.7,882.2A3.2,3.2 0 0 0 776.4,888.4L795.9,892.8"/><ellipse class="mw" cx="799.5" cy="890.3" rx="4.9" ry="7.1" transform="rotate(-12 799.5 890.3)"/><path d="M801.1,887.7l.6,5.4M798.9,891.1l4.4,-1" stroke="#111" stroke-width="2" fill="none"/><path d="M802.7,886.3A3,5 -12 0 1 802.1,895.3" stroke="#111" stroke-width="1.6" fill="none"/>
<path class="mw" d="M746.2,1020.5L728.6,1016.6A3.2,3.2 0 0 0 727.2,1022.9L744.8,1026.8"/><ellipse class="mw" cx="748.4" cy="1024.3" rx="4.9" ry="7.1" transform="rotate(-12 748.4 1024.3)"/><path d="M750,1021.7l.6,5.4M747.8,1025.1l4.4,-1" stroke="#111" stroke-width="2" fill="none"/><path d="M751.6,1020.3A3,5 -12 0 1 751,1029.3" stroke="#111" stroke-width="1.6" fill="none"/>
<path class="mw" d="M767.9,1054.2L750.3,1050.3A3.2,3.2 0 0 0 748.9,1056.6L766.5,1060.5"/><ellipse class="mw" cx="770.1" cy="1058" rx="4.9" ry="7.1" transform="rotate(-12 770.1 1058)"/><path d="M771.7,1055.4l.6,5.4M769.5,1058.8l4.4,-1" stroke="#111" stroke-width="2" fill="none"/><path d="M773.3,1054A3,5 -12 0 1 772.7,1063" stroke="#111" stroke-width="1.6" fill="none"/>
<path class="mw" d="M463.8,800.1L450.1,797.1A3.2,3.2 0 0 0 448.7,803.3L462.4,806.4"/><ellipse class="mw" cx="466" cy="803.9" rx="4.9" ry="7.1" transform="rotate(-12 466 803.9)"/><path d="M467.6,801.3l.6,5.4M465.4,804.7l4.4,-1" stroke="#111" stroke-width="2" fill="none"/><path d="M469.2,799.9A3,5 -12 0 1 468.6,808.9" stroke="#111" stroke-width="1.6" fill="none"/>
<path class="mw" d="M441.4,811.8L427.7,808.8A3.2,3.2 0 0 0 426.3,815L440,818.1"/><ellipse class="mw" cx="443.6" cy="815.6" rx="4.9" ry="7.1" transform="rotate(-12 443.6 815.6)"/><path d="M445.2,813l.6,5.4M443,816.4l4.4,-1" stroke="#111" stroke-width="2" fill="none"/><path d="M446.8,811.6A3,5 -12 0 1 446.2,820.6" stroke="#111" stroke-width="1.6" fill="none"/>
<path class="dd" d="M879.7,708.6L893,712.4"/>
<path class="dd" d="M882.2,752.7L905,757.8"/>
<path class="dd" d="M706,868.6L775,885.2"/>
<path class="dd" d="M686.1,1011.9L724.7,1019.4"/>
<path class="dd" d="M718.5,1046.8L746,1053.4"/>
<path class="l" d="M908.6,714.2l-11,-2.4"/>
<path class="l" d="M920.6,760.1l-11,-2.4"/>
<path class="l" d="M790.5,887.7l-11,-2.4"/>
<path class="l" d="M739.4,1021.7l-11,-2.4"/>
<path class="l" d="M761.1,1055.4l-11,-2.4"/>
<path class="k" d="M283.5,877.2L262.3,883.5L248.6,895.9L247.3,907.2L253.6,913.4L276,912.1"/>
<path class="m" d="M256.1,909.6L276,905.9"/>
<path class="m" d="M265.4,900.9L262.6,902.2L263.8,905.3L261,904.1L259.8,907.1L258.6,904.1L255.9,905.3L257,902.2L254.2,900.9L257,899.6L255.9,896.5L258.6,897.8L259.8,894.7L261,897.8L263.8,896.5L262.6,899.6Z"/>
<path class="mw" d="M286,848.6L274.8,929.6L293.4,932.1L308.4,849.8"/>
<ellipse class="mw" cx="283.5" cy="931.3" rx="10.4" ry="5" transform="rotate(8 283.5 931.3)"/>
<ellipse class="w" cx="283.5" cy="930.6" rx="9.2" ry="4" transform="rotate(8 283.5 930.6)"/>
<path class="wf" d="M275.5,924.6L292.7,927.1L293.7,931.1L274.8,928.6Z"/>
<ellipse class="mw" cx="298.9" cy="844.4" rx="16.4" ry="8.6" transform="rotate(4 298.9 844.4)"/>
<ellipse class="mw" cx="298.9" cy="839.9" rx="16.4" ry="8.6" transform="rotate(4 298.9 839.9)"/>
<ellipse class="m" cx="298.9" cy="839.4" rx="8.2" ry="4.2" transform="rotate(4 298.9 839.4)"/>
<path d="M304.9,936.6C304.1,939.1 300.7,948.1 300.2,952C299.6,955.9 300.5,957.6 301.7,960C302.8,962.4 306.8,962.5 307.2,966.5C307.5,970.4 304.2,981 303.7,983.9" fill="none" stroke="#151515" stroke-width="3.6" stroke-linecap="round" stroke-linejoin="round"/>
<path d="M304.9,936.6C304.1,939.1 300.7,948.1 300.2,952C299.6,955.9 300.5,957.6 301.7,960C302.8,962.4 306.8,962.5 307.2,966.5C307.5,970.4 304.2,981 303.7,983.9" fill="none" stroke="#fff" stroke-width="1.3" stroke-linecap="round" stroke-linejoin="round"/>
<path d="M324.1,956.5C323.4,959.1 321.8,968.9 320.1,971.9C318.4,975 315.9,974.8 314.1,974.9C312.4,975.1 310.9,971.3 309.6,972.9C308.4,974.6 307.2,982.9 306.7,984.9" fill="none" stroke="#151515" stroke-width="3.6" stroke-linecap="round" stroke-linejoin="round"/>
<path d="M324.1,956.5C323.4,959.1 321.8,968.9 320.1,971.9C318.4,975 315.9,974.8 314.1,974.9C312.4,975.1 310.9,971.3 309.6,972.9C308.4,974.6 307.2,982.9 306.7,984.9" fill="none" stroke="#fff" stroke-width="1.3" stroke-linecap="round" stroke-linejoin="round"/>
<path class="mw" d="M297.7,984.4L284.2,1025.5L298.4,1028L309.6,986.4"/>
<ellipse class="mw" cx="303.7" cy="985.1" rx="6" ry="2.4" transform="rotate(10 303.7 985.1)"/>
<path class="mw" d="M282.2,1031.6L278.1,1049.8L295.5,1052.8L300.5,1032.4"/>
<path class="m" d="M281.7,1034.1Q290.5,1037.7 300.2,1034.9"/>
<path class="m" d="M281.1,1037.2Q289.9,1040.9 299.4,1038"/>
<path class="m" d="M280.4,1040.4Q289.2,1044 298.7,1041.2"/>
<path class="m" d="M279.7,1043.5Q288.5,1047.2 297.9,1044.4"/>
<path class="m" d="M279.1,1046.7Q287.9,1050.3 297.2,1047.5"/>
<path class="m" d="M278.4,1049.8Q287.2,1053.5 296.4,1050.7"/>
<ellipse class="mw" cx="291.4" cy="1029.9" rx="9.2" ry="3.8" transform="rotate(8 291.4 1029.9)"/>
<ellipse class="mw" cx="291" cy="1027.9" rx="8" ry="3.2" transform="rotate(8 291 1027.9)"/>
<path class="mw" d="M252.3,1071.4C252.9,1069.1 254.1,1066 256.5,1064C258.8,1061.9 262,1059.9 266.4,1059C270.9,1058 277.5,1057.2 283.1,1058.1C288.6,1059.1 295.9,1062 299.7,1064.8C303.4,1067.6 304.8,1071.6 305.5,1074.8C306.2,1077.9 305.9,1081.5 303.8,1083.9C301.7,1086.2 296.8,1087.3 293,1088.9C289.3,1090.4 287.2,1093.4 281.4,1093C275.6,1092.6 262.8,1088.9 258.1,1086.4C253.4,1083.9 254.1,1080.6 253.2,1078.1C252.2,1075.6 251.8,1073.8 252.3,1071.4Z"/>
<path class="m" d="M252.8,1073.9C253.6,1074.9 254.5,1078.1 257.3,1079.7C260.1,1081.4 265.5,1082.8 269.8,1083.9C274.1,1085 279.2,1086.5 283.1,1086.4C286.9,1086.2 289.4,1084.7 293,1083.1C296.6,1081.4 302.7,1077.5 304.7,1076.4"/>
<path class="l" d="M258.1,1079.7L258.5,1086.4"/>
<path class="m" d="M283.1,1086.4L281.7,1093"/>
<path class="l" d="M293,1083.1L293,1088.9"/>
<path class="m" d="M265.6,1073.1C266.3,1072.5 268.5,1070 269.8,1069.8C271,1069.5 272.5,1071.2 273.1,1071.4"/>
<path class="mw" d="M273.1,1044L279.7,1048.2L296.3,1053.2L299.7,1049.8L299.7,1066.4L295.5,1065.6L292.2,1083.1L281.4,1078.1L266.4,1066.4Z"/>
<path class="m" d="M279.7,1048.2L278.1,1074.8"/>
<path class="m" d="M296.3,1053.2L295.5,1065.6"/>
<path class="l" d="M283.1,1057.3L281.4,1078.1"/>
<path class="b" d="M270.6,1051.5L280.1,1055.8L278.4,1075.1L266.4,1065.8Z"/>
<path class="mw" d="M276.7,1098L276.7,1108L283.1,1109.3L286.4,1095"/>
<ellipse class="mw" cx="280.1" cy="1108.8" rx="3.2" ry="1.6" transform="rotate(8 280.1 1108.8)"/>
<path class="mw" d="M261.5,1090.5L262.1,1094L266.4,1093.4L266.8,1089.7"/>
<path class="mw" d="M290.5,1088.9L295.5,1088L296,1094.7L291,1095.5Z"/>
<path d="M535.2,778.7L536.2,797.8" stroke="#151515" stroke-width="2.4" fill="none" stroke-linecap="round"/><path d="M535.2,783.2L535.9,792.8" stroke="#fff" stroke-width=".7" fill="none"/><path d="M544,778.7L542.4,797.8" stroke="#151515" stroke-width="2.4" fill="none" stroke-linecap="round"/><path d="M544,783.2L542.9,792.8" stroke="#fff" stroke-width=".7" fill="none"/><ellipse cx="542.8" cy="802.3" rx="4.6" ry="2.1" transform="rotate(35 542.8 802.3)" fill="#fff" stroke="#151515" stroke-width="1.5"/><ellipse cx="539.7" cy="805.6" rx="4.6" ry="2.1" transform="rotate(95 539.7 805.6)" fill="#fff" stroke="#151515" stroke-width="1.5"/><ellipse cx="535.4" cy="804.4" rx="4.6" ry="2.1" transform="rotate(155 535.4 804.4)" fill="#fff" stroke="#151515" stroke-width="1.5"/><ellipse cx="534.3" cy="799.9" rx="4.6" ry="2.1" transform="rotate(215 534.3 799.9)" fill="#fff" stroke="#151515" stroke-width="1.5"/><ellipse cx="537.4" cy="796.7" rx="4.6" ry="2.1" transform="rotate(275 537.4 796.7)" fill="#fff" stroke="#151515" stroke-width="1.5"/><ellipse cx="541.6" cy="797.9" rx="4.6" ry="2.1" transform="rotate(335 541.6 797.9)" fill="#fff" stroke="#151515" stroke-width="1.5"/><ellipse cx="539.5" cy="797.1" rx="5.5" ry="2" transform="rotate(-20 539.5 797.1)" fill="none" stroke="#151515" stroke-width="1.5"/>
<path d="M562.6,794.5L563.6,813.6" stroke="#151515" stroke-width="2.4" fill="none" stroke-linecap="round"/><path d="M562.6,799L563.3,808.6" stroke="#fff" stroke-width=".7" fill="none"/><path d="M571.4,794.5L569.8,813.6" stroke="#151515" stroke-width="2.4" fill="none" stroke-linecap="round"/><path d="M571.4,799L570.3,808.6" stroke="#fff" stroke-width=".7" fill="none"/><ellipse cx="570.2" cy="818.1" rx="4.6" ry="2.1" transform="rotate(35 570.2 818.1)" fill="#fff" stroke="#151515" stroke-width="1.5"/><ellipse cx="567.1" cy="821.4" rx="4.6" ry="2.1" transform="rotate(95 567.1 821.4)" fill="#fff" stroke="#151515" stroke-width="1.5"/><ellipse cx="562.8" cy="820.2" rx="4.6" ry="2.1" transform="rotate(155 562.8 820.2)" fill="#fff" stroke="#151515" stroke-width="1.5"/><ellipse cx="561.7" cy="815.7" rx="4.6" ry="2.1" transform="rotate(215 561.7 815.7)" fill="#fff" stroke="#151515" stroke-width="1.5"/><ellipse cx="564.8" cy="812.5" rx="4.6" ry="2.1" transform="rotate(275 564.8 812.5)" fill="#fff" stroke="#151515" stroke-width="1.5"/><ellipse cx="569.1" cy="813.7" rx="4.6" ry="2.1" transform="rotate(335 569.1 813.7)" fill="#fff" stroke="#151515" stroke-width="1.5"/><ellipse cx="566.9" cy="812.9" rx="5.5" ry="2" transform="rotate(-20 566.9 812.9)" fill="none" stroke="#151515" stroke-width="1.5"/>
<path class="mw" d="M560.6,882.9L564,880L595.5,890.3L596.7,911.1L588.9,916.1L562.8,903.6Z"/>
<path class="m" d="M560.6,882.9L587.2,895.3L595.5,890.3"/>
<path class="m" d="M587.2,895.3L588.9,916.1"/>
<path class="l" d="M564.8,882.5L588,893.2"/>
<path d="M566.4,856.3L568.4,885.8" stroke="#151515" stroke-width="2.3" fill="none" stroke-linecap="round"/>
<path d="M566.6,860.4L568.4,885" stroke="#fff" stroke-width=".6" fill="none"/>
<path d="M586.4,866.2L588,892" stroke="#151515" stroke-width="2.3" fill="none" stroke-linecap="round"/>
<path d="M586.5,870.4L588,891.2" stroke="#fff" stroke-width=".6" fill="none"/>
</g>

<!-- 60_box.svg -->
<g id="boxparts">
<path class="mw" d="M491.3,990.7L532,964.1L547.8,972.4L550.2,988.2L551.1,1004.8L549.4,1012.3L534.5,996.5L508.7,1013.1L508.7,1019L503.7,1021.4L498.8,1001.5Z"/>
<path class="l" d="M518.7,972.4L532,964.1"/>
<path class="m" d="M518.7,975.8L529.5,981.6L547.8,972.4"/>
<path class="m" d="M529.5,981.6L530.3,998.5"/>
<path class="m" d="M518.7,972.4L518.7,975.8"/>
<path class="m" d="M498.8,999L528.7,985.7"/>
<path class="l" d="M498.8,1001.8L528.7,988.6"/>
<path class="m" d="M532,964.1L547.8,972.4"/>
<path class="l" d="M521.2,973.6L531.1,979.6"/>
<ellipse class="mw" cx="531.5" cy="1023.1" rx="19.5" ry="27" transform="rotate(14 531.5 1023.1)"/>
<path class="m" d="M541.7,1003.9L543.8,1000.5M544.9,1007.9L547.7,1005.3M546.8,1013.3L550.2,1011.7M547.5,1019.5L551,1019.1M546.7,1026.1L550.1,1026.8M544.6,1032.4L547.6,1034.2M541.3,1037.9L543.7,1040.6M537.2,1042L538.7,1045.5M532.6,1044.6L533.1,1048.5M527.9,1045.2L527.4,1049.2M523.5,1044L522,1047.6M519.8,1040.9L517.4,1043.9M517.1,1036.2L514.1,1038.4M515.7,1030.4L512.2,1031.6M515.6,1024L512.1,1024"/>
<ellipse class="mw" cx="530.7" cy="1022.6" rx="15.2" ry="22" transform="rotate(14 530.7 1022.6)"/>
<path class="m" d="M510.4,1013.5C510,1015.6 508.5,1022.3 508.2,1026.4C508,1030.5 508.1,1034.8 508.9,1038.1C509.7,1041.3 511.6,1044.3 513.2,1046C514.8,1047.7 517.8,1048 518.7,1048.4"/>
<path class="l" d="M539.5,1002.3C539.3,1005 539.9,1013.6 538.6,1018.1C537.4,1022.7 534.9,1027 532,1029.8C529.1,1032.5 523,1033.6 521.2,1034.4"/>
<path class="m" d="M504.6,1015.1L508.7,1013.1"/>
<ellipse class="mw" cx="486" cy="1012.3" rx="16.5" ry="26.5" transform="rotate(-22 486 1012.3)"/>
<ellipse class="mw" cx="481.3" cy="1011.5" rx="17" ry="26.5" transform="rotate(-22 481.3 1011.5)"/>
<path class="mw" d="M402.4,1041.4C409.3,1034.2 430.5,1024.2 441.4,1018.1C452.4,1012 462.1,1007.3 468,1004.8C474,1002.4 474.7,1001.8 477.2,1003.5C479.6,1005.2 481.4,1011 482.6,1014.8C483.9,1018.6 484.9,1023.1 484.6,1026.4C484.4,1029.8 488.5,1029.3 481.3,1034.7C474.1,1040.1 453.2,1052.1 441.4,1058.8C429.7,1065.5 417.6,1074.5 410.7,1074.9C403.8,1075.3 401.3,1066.9 399.9,1061.3C398.5,1055.7 395.5,1048.6 402.4,1041.4Z"/>
<path class="m" d="M414,1054.7C413.5,1052.7 413.3,1049.7 416.5,1045.5C419.7,1041.4 426.2,1034.2 433.1,1029.8C440.1,1025.3 451.4,1020.9 458.1,1019C464.7,1017 469.7,1017.4 473,1018.1C476.3,1018.8 477.7,1020.9 478,1023.1C478.3,1025.3 478,1027.8 474.7,1031.4C471.3,1035 465,1040.8 458.1,1044.7C451.1,1048.6 439.5,1052.6 433.1,1054.7C426.8,1056.7 423,1057.2 419.9,1057.2C416.7,1057.2 414.6,1056.6 414,1054.7Z"/>
<ellipse class="mw" cx="402.4" cy="1060.8" rx="9" ry="15.5" transform="rotate(-24 402.4 1060.8)"/>
<ellipse class="mw" cx="397.9" cy="1062.1" rx="11" ry="17.5" transform="rotate(-24 397.9 1062.1)"/>
<ellipse class="mw" cx="393.3" cy="1063.8" rx="13.2" ry="19.6" transform="rotate(-24 393.3 1063.8)"/>
<path class="mw" d="M410.7,1131.1L557.7,1045.5L561.9,1050.5L414,1136.9Z"/>
<path class="l" d="M412.4,1134.4L560.2,1048"/>
<ellipse class="mw" cx="412.4" cy="1134.1" rx="2.2" ry="3.2" transform="rotate(-30 412.4 1134.1)"/>
<path class="mw" d="M483,1135.2L546.9,1098.2L551.1,1102L486.3,1140.2Z"/>
<ellipse class="mw" cx="484.6" cy="1137.7" rx="2.2" ry="3" transform="rotate(-30 484.6 1137.7)"/>
<ellipse class="l" cx="549.1" cy="1100.2" rx="2.2" ry="3" transform="rotate(-30 549.1 1100.2)"/>
<path class="mw" d="M506.2,1122.8L512.9,1119.5L524.5,1129.4L519.5,1135.2Z"/>
<ellipse class="l" cx="509.6" cy="1121.1" rx="4" ry="2.4" transform="rotate(30 509.6 1121.1)"/>
<path class="mw" d="M517,1131.1L525.3,1126.1L532,1133.6L531.1,1139.4L521.2,1144.4L516.2,1137.7Z"/>
<path class="m" d="M518.2,1131.4L519.9,1142.4"/>
<path class="m" d="M520.8,1130.2L522.2,1141"/>
<path class="m" d="M523.5,1129.1L524.5,1139.7"/>
<path class="m" d="M526.2,1127.9L526.8,1138.4"/>
<path class="m" d="M528.8,1126.8L529.2,1137.1"/>
<ellipse class="mw" cx="532" cy="1139.7" rx="3.2" ry="3.6" transform="rotate(0 532 1139.7)"/>
<ellipse class="mw" cx="534.1" cy="1140.7" rx="2.4" ry="2.8" transform="rotate(0 534.1 1140.7)"/>
</g>

<!-- 80_axes.svg -->
<g id="axes">
<polyline class="dd" points="909,108 432.5,301 432.5,430.7 955.4,218 955.4,477.2 445.4,673.4"/>
<rect x="372.5" y="952.4" width="242.2" height="213.8" fill="none" stroke="#555" stroke-width="1.3"/>
</g>

<!-- 90_labels.svg -->
<g id="labels">
<polyline class="ld" points="913.0,60.6 926.6,60.6 941.6,87.8"/>
<path class="g" transform="translate(917.4,47.2)" d="M0,2.3L1.9,0L1.9,11"/>
<polyline class="ld" points="846.9,64.4 860.6,64.4 879.3,99.8"/>
<path class="g" transform="translate(849.5,48.6)" d="M0,3C0,-1 4.6,-1 4.6,3C4.6,5.5 1,7.5 0,11L4.8,11"/>
<polyline class="ld" points="787.0,118.5 800.8,118.5 807.0,139.6"/>
<path class="g" transform="translate(790.2,102.0)" d="M0.1,2.4C0.6,-0.8 4.5,-0.8 4.5,2.8C4.5,4.6 3.2,5.3 1.8,5.3C3.4,5.3 4.7,6.2 4.7,8.1C4.7,12 0.3,12 -0.1,8.6"/>
<polyline class="ld" points="722.3,121.0 736.0,121.0 744.2,165.8"/>
<path class="g" transform="translate(724.9,104.5)" d="M3.5,11L3.5,0L0,7.8L4.9,7.8"/>
<polyline class="ld" points="682.4,123.6 696.0,123.6 717.8,169.5"/>
<path class="g" transform="translate(685.6,107.0)" d="M4.3,0L0.6,0L0.3,5.2C1.5,3.8 4.6,3.8 4.6,7.4C4.6,12.2 0.3,11.8 -0.1,8.8"/>
<polyline class="ld" points="644.2,124.0 658.0,124.0 681.6,173.4"/>
<path class="g" transform="translate(647.4,108.1)" d="M4.4,2.2C4,-0.8 0,-0.8 0,3.2L0,8C0,12 4.6,12 4.6,7.8C4.6,3.8 0.5,3.8 0,7"/>
<polyline class="ld" points="609.3,151.5 623.0,151.5 646.7,203.3"/>
<path class="g" transform="translate(613.2,134.5)" d="M0,0L4.6,0C3,3.5 2,7.5 1.8,11"/>
<polyline class="ld" points="580.0,151.0 594.4,151.0 635.5,234.4"/>
<path class="g" transform="translate(582.6,134.5)" d="M2.3,5.2C-0.5,5.2 -0.5,0 2.3,0C5.1,0 5.1,5.2 2.3,5.2C-0.9,5.2 -0.9,11 2.3,11C5.5,11 5.5,5.2 2.3,5.2Z"/>
<polyline class="ld" points="542.0,152.7 555.7,152.7 577.4,199.0"/>
<path class="g" transform="translate(544.6,137.0)" d="M0.2,8.8C0.6,11.8 4.6,11.8 4.6,7.8L4.6,3C4.6,-1 0,-1 0,3.2C0,7.2 4.1,7.2 4.6,4"/>
<polyline class="ld" points="514.3,154.4 528.0,154.4 545.3,245.6"/>
<path class="g" transform="translate(512.9,138.0)" d="M0,2.3L1.9,0L1.9,11"/>
<path class="g" transform="translate(518.9,138.0)" d="M0,3C0,-1 4.6,-1 4.6,3L4.6,8C4.6,12 0,12 0,8Z"/>
<polyline class="ld" points="499.2,190.2 512.2,190.2 517.0,213.8"/>
<path class="g" transform="translate(497.6,173.7)" d="M0,2.3L1.9,0L1.9,11"/>
<path class="g" transform="translate(503.6,173.7)" d="M0,2.3L1.9,0L1.9,11"/>
<polyline class="ld" points="401.5,115.2 415.0,115.2 428.5,130.1"/>
<path class="g" transform="translate(400.5,99.5)" d="M0,2.3L1.9,0L1.9,11"/>
<path class="g" transform="translate(406.5,99.5)" d="M0,3C0,-1 4.6,-1 4.6,3C4.6,5.5 1,7.5 0,11L4.8,11"/>
<polyline class="ld" points="411.2,169.5 424.2,169.5 459.8,192.2"/>
<path class="g" transform="translate(409.1,153.2)" d="M0,2.3L1.9,0L1.9,11"/>
<path class="g" transform="translate(415.1,153.2)" d="M0.1,2.4C0.6,-0.8 4.5,-0.8 4.5,2.8C4.5,4.6 3.2,5.3 1.8,5.3C3.4,5.3 4.7,6.2 4.7,8.1C4.7,12 0.3,12 -0.1,8.6"/>
<polyline class="ld" points="412.8,221.1 426.3,221.1 446.6,239.0"/>
<path class="g" transform="translate(411.8,204.5)" d="M0,2.3L1.9,0L1.9,11"/>
<path class="g" transform="translate(417.8,204.5)" d="M3.5,11L3.5,0L0,7.8L4.9,7.8"/>
<polyline class="ld" points="640.0,393.6 652.9,393.6 688.5,416.5"/>
<path class="g" transform="translate(638.2,377.2)" d="M0,2.3L1.9,0L1.9,11"/>
<path class="g" transform="translate(644.2,377.2)" d="M4.3,0L0.6,0L0.3,5.2C1.5,3.8 4.6,3.8 4.6,7.4C4.6,12.2 0.3,11.8 -0.1,8.8"/>
<polyline class="ld" points="640.5,425.5 653.6,425.5 688.5,448.5"/>
<path class="g" transform="translate(638.6,409.6)" d="M0,2.3L1.9,0L1.9,11"/>
<path class="g" transform="translate(644.6,409.6)" d="M4.4,2.2C4,-0.8 0,-0.8 0,3.2L0,8C0,12 4.6,12 4.6,7.8C4.6,3.8 0.5,3.8 0,7"/>
<polyline class="ld" points="641.2,457.2 654.9,457.2 692.3,480.9"/>
<path class="g" transform="translate(639.4,440.8)" d="M0,2.3L1.9,0L1.9,11"/>
<path class="g" transform="translate(645.4,440.8)" d="M0,0L4.6,0C3,3.5 2,7.5 1.8,11"/>
<polyline class="ld" points="641.2,499.5 654.9,499.5 691.0,524.5"/>
<path class="g" transform="translate(639.4,483.2)" d="M0,2.3L1.9,0L1.9,11"/>
<path class="g" transform="translate(645.4,483.2)" d="M2.3,5.2C-0.5,5.2 -0.5,0 2.3,0C5.1,0 5.1,5.2 2.3,5.2C-0.9,5.2 -0.9,11 2.3,11C5.5,11 5.5,5.2 2.3,5.2Z"/>
<polyline class="ld" points="410.5,519.7 436.7,537.1 451.6,537.1"/>
<path class="g" transform="translate(437.3,520.6)" d="M0,2.3L1.9,0L1.9,11"/>
<path class="g" transform="translate(443.3,520.6)" d="M0.2,8.8C0.6,11.8 4.6,11.8 4.6,7.8L4.6,3C4.6,-1 0,-1 0,3.2C0,7.2 4.1,7.2 4.6,4"/>
<polyline class="ld" points="414.2,629.3 430.4,597.4 444.1,597.4"/>
<path class="g" transform="translate(429.8,581.8)" d="M0,3C0,-1 4.6,-1 4.6,3C4.6,5.5 1,7.5 0,11L4.8,11"/>
<path class="g" transform="translate(437.1,581.8)" d="M0,3C0,-1 4.6,-1 4.6,3L4.6,8C4.6,12 0,12 0,8Z"/>
<polyline class="ld" points="875.0,525.2 911.7,548.9 925.0,548.9"/>
<path class="g" transform="translate(910.4,533.1)" d="M0,3C0,-1 4.6,-1 4.6,3C4.6,5.5 1,7.5 0,11L4.8,11"/>
<path class="g" transform="translate(917.7,533.1)" d="M0,2.3L1.9,0L1.9,11"/>
<polyline class="ld" points="803.9,577.3 839.3,601.7 853.0,601.7"/>
<path class="g" transform="translate(838.6,586.6)" d="M0,3C0,-1 4.6,-1 4.6,3C4.6,5.5 1,7.5 0,11L4.8,11"/>
<path class="g" transform="translate(845.9,586.6)" d="M0,3C0,-1 4.6,-1 4.6,3C4.6,5.5 1,7.5 0,11L4.8,11"/>
<polyline class="ld" points="644.8,611.1 656.8,634.3 670.5,634.3"/>
<path class="g" transform="translate(657.4,619.0)" d="M0,3C0,-1 4.6,-1 4.6,3C4.6,5.5 1,7.5 0,11L4.8,11"/>
<path class="g" transform="translate(664.7,619.0)" d="M0.1,2.4C0.6,-0.8 4.5,-0.8 4.5,2.8C4.5,4.6 3.2,5.3 1.8,5.3C3.4,5.3 4.7,6.2 4.7,8.1C4.7,12 0.3,12 -0.1,8.6"/>
<polyline class="ld" points="557.1,677.1 580.8,707.0 594.5,707.0"/>
<path class="g" transform="translate(580.1,691.9)" d="M0,3C0,-1 4.6,-1 4.6,3C4.6,5.5 1,7.5 0,11L4.8,11"/>
<path class="g" transform="translate(587.4,691.9)" d="M3.5,11L3.5,0L0,7.8L4.9,7.8"/>
<polyline class="ld" points="415.5,682.9 442.9,702.8 456.6,702.8"/>
<path class="g" transform="translate(442.2,686.4)" d="M0,3C0,-1 4.6,-1 4.6,3C4.6,5.5 1,7.5 0,11L4.8,11"/>
<path class="g" transform="translate(449.6,686.4)" d="M4.3,0L0.6,0L0.3,5.2C1.5,3.8 4.6,3.8 4.6,7.4C4.6,12.2 0.3,11.8 -0.1,8.8"/>
<polyline class="ld" points="426.7,773.0 439.2,746.4 452.9,746.4"/>
<path class="g" transform="translate(438.5,730.5)" d="M0,3C0,-1 4.6,-1 4.6,3C4.6,5.5 1,7.5 0,11L4.8,11"/>
<path class="g" transform="translate(445.8,730.5)" d="M4.4,2.2C4,-0.8 0,-0.8 0,3.2L0,8C0,12 4.6,12 4.6,7.8C4.6,3.8 0.5,3.8 0,7"/>
<polyline class="ld" points="304.2,864.3 329.6,893.7 343.3,893.7"/>
<path class="g" transform="translate(328.9,878.2)" d="M0,3C0,-1 4.6,-1 4.6,3C4.6,5.5 1,7.5 0,11L4.8,11"/>
<path class="g" transform="translate(336.2,878.2)" d="M0,0L4.6,0C3,3.5 2,7.5 1.8,11"/>
<polyline class="ld" points="302.2,1000.6 328.3,1030.5 342.0,1030.5"/>
<path class="g" transform="translate(327.8,1015.4)" d="M0,3C0,-1 4.6,-1 4.6,3C4.6,5.5 1,7.5 0,11L4.8,11"/>
<path class="g" transform="translate(335.1,1015.4)" d="M2.3,5.2C-0.5,5.2 -0.5,0 2.3,0C5.1,0 5.1,5.2 2.3,5.2C-0.9,5.2 -0.9,11 2.3,11C5.5,11 5.5,5.2 2.3,5.2Z"/>
<polyline class="ld" points="446.7,816.2 471.6,844.9 485.3,844.9"/>
<path class="g" transform="translate(471.0,828.5)" d="M0,3C0,-1 4.6,-1 4.6,3C4.6,5.5 1,7.5 0,11L4.8,11"/>
<path class="g" transform="translate(478.3,828.5)" d="M0.2,8.8C0.6,11.8 4.6,11.8 4.6,7.8L4.6,3C4.6,-1 0,-1 0,3.2C0,7.2 4.1,7.2 4.6,4"/>
<polyline class="ld" points="544.9,790.7 593.0,773.7 610.5,773.7"/>
<polyline class="ld" points="593.0,773.7 573.6,805.6"/>
<path class="g" transform="translate(595.6,759.2)" d="M0.1,2.4C0.6,-0.8 4.5,-0.8 4.5,2.8C4.5,4.6 3.2,5.3 1.8,5.3C3.4,5.3 4.7,6.2 4.7,8.1C4.7,12 0.3,12 -0.1,8.6"/>
<path class="g" transform="translate(602.9,759.2)" d="M0,3C0,-1 4.6,-1 4.6,3L4.6,8C4.6,12 0,12 0,8Z"/>
<polyline class="ld" points="590.5,886.2 608.8,857.1 625.9,857.1"/>
<path class="g" transform="translate(611.1,840.6)" d="M0.1,2.4C0.6,-0.8 4.5,-0.8 4.5,2.8C4.5,4.6 3.2,5.3 1.8,5.3C3.4,5.3 4.7,6.2 4.7,8.1C4.7,12 0.3,12 -0.1,8.6"/>
<path class="g" transform="translate(618.4,840.6)" d="M0,2.3L1.9,0L1.9,11"/>
<polyline class="ld" points="798.2,708.5 814.4,675.6 828.1,675.6"/>
<path class="g" transform="translate(813.9,659.6)" d="M0.1,2.4C0.6,-0.8 4.5,-0.8 4.5,2.8C4.5,4.6 3.2,5.3 1.8,5.3C3.4,5.3 4.7,6.2 4.7,8.1C4.7,12 0.3,12 -0.1,8.6"/>
<path class="g" transform="translate(821.1,659.6)" d="M0,3C0,-1 4.6,-1 4.6,3C4.6,5.5 1,7.5 0,11L4.8,11"/>
<polyline class="ld" points="802.0,896.0 833.1,968.8 846.8,968.8"/>
<polyline class="ld" points="833.1,968.8 753.4,1025.6"/>
<polyline class="ld" points="833.1,968.8 774.6,1055.5"/>
<path class="g" transform="translate(834.5,953.9)" d="M0.1,2.4C0.6,-0.8 4.5,-0.8 4.5,2.8C4.5,4.6 3.2,5.3 1.8,5.3C3.4,5.3 4.7,6.2 4.7,8.1C4.7,12 0.3,12 -0.1,8.6"/>
<path class="g" transform="translate(841.8,953.9)" d="M0.1,2.4C0.6,-0.8 4.5,-0.8 4.5,2.8C4.5,4.6 3.2,5.3 1.8,5.3C3.4,5.3 4.7,6.2 4.7,8.1C4.7,12 0.3,12 -0.1,8.6"/>
<polyline class="ld" points="920.9,721.0 940.8,845.6 957.0,845.6"/>
<polyline class="ld" points="940.8,845.6 932.0,764.7"/>
<polyline class="ld" points="940.8,845.6 905.9,794.6"/>
<polyline class="ld" points="940.8,845.6 898.4,830.7"/>
<polyline class="ld" points="940.8,845.6 881.0,839.9"/>
<polyline class="ld" points="940.8,845.6 834.9,863.1"/>
<path class="g" transform="translate(943.9,831.8)" d="M0.1,2.4C0.6,-0.8 4.5,-0.8 4.5,2.8C4.5,4.6 3.2,5.3 1.8,5.3C3.4,5.3 4.7,6.2 4.7,8.1C4.7,12 0.3,12 -0.1,8.6"/>
<path class="g" transform="translate(951.2,831.8)" d="M3.5,11L3.5,0L0,7.8L4.9,7.8"/>
<polyline class="ld" points="550.6,1003.5 579.3,1026.4 604.7,1026.4"/>
<path class="g" transform="translate(589.9,1010.2)" d="M0.1,2.4C0.6,-0.8 4.5,-0.8 4.5,2.8C4.5,4.6 3.2,5.3 1.8,5.3C3.4,5.3 4.7,6.2 4.7,8.1C4.7,12 0.3,12 -0.1,8.6"/>
<path class="g" transform="translate(597.2,1010.2)" d="M4.3,0L0.6,0L0.3,5.2C1.5,3.8 4.6,3.8 4.6,7.4C4.6,12.2 0.3,11.8 -0.1,8.8"/>
<polyline class="ld" points="541.9,1060.8 574.8,1093.2 600.5,1093.2"/>
<path class="g" transform="translate(586.1,1076.8)" d="M0.1,2.4C0.6,-0.8 4.5,-0.8 4.5,2.8C4.5,4.6 3.2,5.3 1.8,5.3C3.4,5.3 4.7,6.2 4.7,8.1C4.7,12 0.3,12 -0.1,8.6"/>
<path class="g" transform="translate(593.4,1076.8)" d="M4.4,2.2C4,-0.8 0,-0.8 0,3.2L0,8C0,12 4.6,12 4.6,7.8C4.6,3.8 0.5,3.8 0,7"/>
<polyline class="ld" points="534.4,1111.4 573.0,1140.5 600.5,1140.5"/>
<path class="g" transform="translate(586.1,1124.0)" d="M0.1,2.4C0.6,-0.8 4.5,-0.8 4.5,2.8C4.5,4.6 3.2,5.3 1.8,5.3C3.4,5.3 4.7,6.2 4.7,8.1C4.7,12 0.3,12 -0.1,8.6"/>
<path class="g" transform="translate(593.4,1124.0)" d="M0,0L4.6,0C3,3.5 2,7.5 1.8,11"/>
</g>

</svg>
</body></html>
